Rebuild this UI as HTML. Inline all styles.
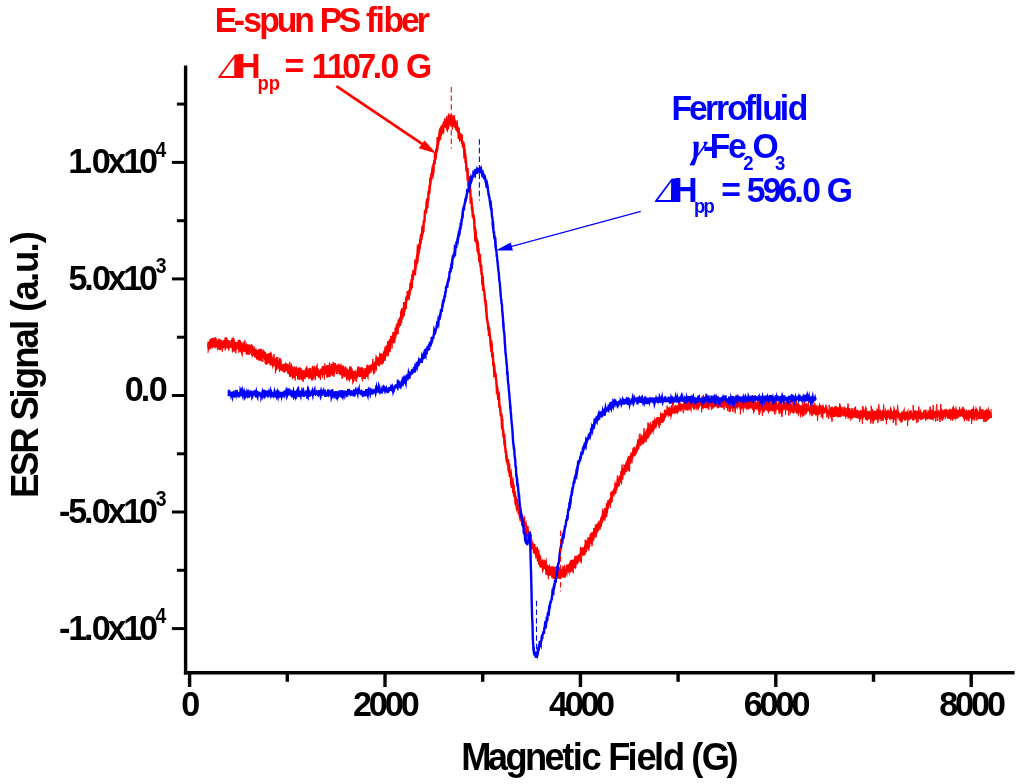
<!DOCTYPE html>
<html lang="en"><head><meta charset="utf-8"><title>ESR Signal vs Magnetic Field</title>
<style>
html,body{margin:0;padding:0;background:#fff;}
body{width:1024px;height:784px;overflow:hidden;}
svg{display:block;}
svg text{font-family:"Liberation Sans",sans-serif;font-weight:bold;}
svg text.sd{font-family:"Liberation Serif",serif;font-style:normal;font-weight:bold;}
svg text.sg{font-family:"Liberation Serif",serif;font-style:italic;font-weight:bold;}
</style></head><body>
<svg width="1024" height="784" viewBox="0 0 1024 784">
<rect width="1024" height="784" fill="#fff"/>
<line x1="185.6" y1="65.5" x2="185.6" y2="674.4" stroke="#000" stroke-width="3.4"/>
<line x1="183.9" y1="672.7" x2="1014.6" y2="672.7" stroke="#000" stroke-width="3.4"/>
<line x1="189.6" y1="672.7" x2="189.6" y2="687.0" stroke="#000" stroke-width="3.4"/>
<line x1="287.3" y1="672.7" x2="287.3" y2="681.8" stroke="#000" stroke-width="3.4"/>
<line x1="385.0" y1="672.7" x2="385.0" y2="687.0" stroke="#000" stroke-width="3.4"/>
<line x1="482.7" y1="672.7" x2="482.7" y2="681.8" stroke="#000" stroke-width="3.4"/>
<line x1="580.4" y1="672.7" x2="580.4" y2="687.0" stroke="#000" stroke-width="3.4"/>
<line x1="678.1" y1="672.7" x2="678.1" y2="681.8" stroke="#000" stroke-width="3.4"/>
<line x1="775.8" y1="672.7" x2="775.8" y2="687.0" stroke="#000" stroke-width="3.4"/>
<line x1="873.5" y1="672.7" x2="873.5" y2="681.8" stroke="#000" stroke-width="3.4"/>
<line x1="971.2" y1="672.7" x2="971.2" y2="687.0" stroke="#000" stroke-width="3.4"/>
<line x1="185.6" y1="628.6" x2="171.9" y2="628.6" stroke="#000" stroke-width="3"/>
<line x1="185.6" y1="570.3" x2="176.9" y2="570.3" stroke="#000" stroke-width="3"/>
<line x1="185.6" y1="512.0" x2="171.9" y2="512.0" stroke="#000" stroke-width="3"/>
<line x1="185.6" y1="453.8" x2="176.9" y2="453.8" stroke="#000" stroke-width="3"/>
<line x1="185.6" y1="395.5" x2="171.9" y2="395.5" stroke="#000" stroke-width="3"/>
<line x1="185.6" y1="337.2" x2="176.9" y2="337.2" stroke="#000" stroke-width="3"/>
<line x1="185.6" y1="278.9" x2="171.9" y2="278.9" stroke="#000" stroke-width="3"/>
<line x1="185.6" y1="220.7" x2="176.9" y2="220.7" stroke="#000" stroke-width="3"/>
<line x1="185.6" y1="162.4" x2="171.9" y2="162.4" stroke="#000" stroke-width="3"/>
<line x1="185.6" y1="104.1" x2="176.9" y2="104.1" stroke="#000" stroke-width="3"/>
<text transform="translate(181.25,716.20) scale(0.97,1)" font-size="35.2">0</text>
<text transform="translate(352.92,716.20) scale(0.97,1)" font-size="35.2" x="0.00 16.42 32.85 49.27">2000</text>
<text transform="translate(548.98,716.20) scale(0.97,1)" font-size="35.2" x="0.00 16.20 32.39 48.59">4000</text>
<text transform="translate(743.65,716.20) scale(0.97,1)" font-size="35.2" x="0.00 16.45 32.89 49.34">6000</text>
<text transform="translate(939.22,716.20) scale(0.97,1)" font-size="35.2" x="0.00 16.39 32.78 49.17">8000</text>
<text transform="translate(68.15,173.30) scale(0.97,1)" font-size="35.2" x="0.00 16.21 24.31 40.52 56.74 72.95">1.0x10</text>
<text transform="translate(155.61,156.70) scale(0.9,1)" font-size="21.5">4</text>
<text transform="translate(68.55,289.80) scale(0.97,1)" font-size="35.2" x="0.00 16.12 24.17 40.30 56.42 72.54">5.0x10</text>
<text transform="translate(155.66,273.00) scale(0.9,1)" font-size="21.5">3</text>
<text transform="translate(124.75,400.60) scale(0.97,1)" font-size="35.2" x="0.00 16.54 24.81">0.0</text>
<text transform="translate(58.97,523.30) scale(0.97,1)" font-size="35.2" x="0.00 9.68 25.85 33.92 50.09 66.25 82.42">-5.0x10</text>
<text transform="translate(155.66,506.00) scale(0.9,1)" font-size="21.5">3</text>
<text transform="translate(58.97,639.80) scale(0.97,1)" font-size="35.2" x="0.00 9.68 25.85 33.92 50.09 66.25 82.42">-1.0x10</text>
<text transform="translate(155.61,623.20) scale(0.9,1)" font-size="21.5">4</text>
<text transform="translate(461.32,770.00) scale(0.95,1)" font-size="38.2" x="0.00 27.91 46.55 67.02 87.49 106.12 117.28 126.59 145.23 154.54 175.01 184.32 202.95 212.26 232.73 242.04 253.20 279.26">Magnetic Field (G)</text>
<text transform="translate(38.30,498.05) rotate(-90) scale(0.95,1)" font-size="38.5" x="0.00 23.32 46.64 71.89 81.60 104.92 114.64 135.99 157.35 176.79 186.51 196.22 207.86 227.31 237.02 258.38 268.09">ESR Signal (a.u.)</text>
<polyline points="208.00,345.0 208.25,345.9 208.50,344.0 208.75,342.0 209.00,343.4 209.25,341.6 209.50,344.9 209.75,349.0 210.00,343.1 210.25,342.6 210.50,346.1 210.75,345.6 211.00,344.8 211.25,341.4 211.50,344.3 211.75,346.6 212.00,340.0 212.25,342.8 212.50,338.1 212.75,340.1 213.00,338.3 213.25,343.4 213.50,340.1 213.75,344.9 214.00,344.6 214.25,343.4 214.50,337.5 214.75,342.3 215.00,343.8 215.25,344.4 215.50,339.1 215.75,342.4 216.00,340.8 216.25,341.4 216.50,347.3 216.75,341.4 217.00,343.8 217.25,346.8 217.50,342.0 217.75,343.5 218.00,344.3 218.25,344.1 218.50,340.0 218.75,344.1 219.00,348.2 219.25,338.9 219.50,346.6 219.75,344.2 220.00,341.8 220.25,350.2 220.50,346.3 220.75,340.0 221.00,344.1 221.25,345.7 221.50,343.2 221.75,346.0 222.00,343.6 222.25,345.9 222.50,348.4 222.75,341.6 223.00,344.4 223.25,342.3 223.50,344.2 223.75,340.0 224.00,341.9 224.25,343.1 224.50,346.6 224.75,347.4 225.00,339.5 225.25,341.2 225.50,345.8 225.75,337.4 226.00,342.3 226.25,343.4 226.50,347.8 226.75,346.0 227.00,342.7 227.25,342.6 227.50,342.9 227.75,348.6 228.00,342.4 228.25,342.8 228.50,344.9 228.75,343.4 229.00,343.2 229.25,340.3 229.50,343.8 229.75,342.5 230.00,347.7 230.25,346.0 230.50,343.9 230.75,346.2 231.00,343.0 231.25,347.5 231.50,344.1 231.75,346.1 232.00,340.1 232.25,345.4 232.50,339.0 232.75,337.9 233.00,343.5 233.25,341.7 233.50,345.1 233.75,351.2 234.00,342.1 234.25,342.8 234.50,345.5 234.75,346.5 235.00,344.5 235.25,344.5 235.50,347.4 235.75,346.9 236.00,342.0 236.25,345.2 236.50,345.6 236.75,342.2 237.00,346.5 237.25,343.0 237.50,348.9 237.75,346.5 238.00,346.3 238.25,344.2 238.50,345.8 238.75,339.9 239.00,342.7 239.25,347.6 239.50,340.0 239.75,349.3 240.00,341.1 240.25,349.2 240.50,344.1 240.75,349.4 241.00,347.4 241.25,342.2 241.50,351.2 241.75,351.9 242.00,347.1 242.25,346.5 242.50,347.0 242.75,344.5 243.00,351.2 243.25,346.0 243.50,347.7 243.75,345.4 244.00,346.0 244.25,344.0 244.50,352.2 244.75,347.8 245.00,351.4 245.25,348.5 245.50,346.3 245.75,347.6 246.00,346.9 246.25,348.8 246.50,347.7 246.75,348.1 247.00,344.7 247.25,346.6 247.50,354.6 247.75,347.3 248.00,346.1 248.25,350.7 248.50,354.2 248.75,345.2 249.00,349.3 249.25,348.0 249.50,344.5 249.75,352.6 250.00,350.3 250.25,350.7 250.50,348.2 250.75,352.2 251.00,349.1 251.25,350.5 251.50,347.5 251.75,347.3 252.00,355.5 252.25,349.8 252.50,352.4 252.75,351.5 253.00,350.3 253.25,350.2 253.50,354.0 253.75,351.1 254.00,351.7 254.25,352.4 254.50,356.2 254.75,354.7 255.00,353.9 255.25,351.0 255.50,348.5 255.75,356.0 256.00,356.2 256.25,352.8 256.50,355.1 256.75,356.0 257.00,356.3 257.25,356.7 257.50,352.4 257.75,358.8 258.00,350.1 258.25,356.9 258.50,355.9 258.75,357.2 259.00,360.5 259.25,359.4 259.50,351.1 259.75,349.5 260.00,357.6 260.25,351.9 260.50,355.2 260.75,358.0 261.00,350.2 261.25,349.1 261.50,356.5 261.75,356.0 262.00,355.2 262.25,356.2 262.50,353.4 262.75,351.5 263.00,355.9 263.25,353.4 263.50,351.4 263.75,358.4 264.00,356.7 264.25,358.3 264.50,354.0 264.75,355.2 265.00,354.2 265.25,354.7 265.50,358.3 265.75,355.3 266.00,359.1 266.25,359.1 266.50,364.7 266.75,353.8 267.00,361.3 267.25,358.3 267.50,358.6 267.75,354.2 268.00,357.5 268.25,361.4 268.50,358.9 268.75,359.6 269.00,358.5 269.25,363.3 269.50,359.6 269.75,353.3 270.00,357.7 270.25,353.8 270.50,353.7 270.75,358.6 271.00,364.7 271.25,360.7 271.50,357.0 271.75,357.8 272.00,364.6 272.25,361.6 272.50,361.4 272.75,361.2 273.00,361.6 273.25,364.2 273.50,363.5 273.75,362.6 274.00,358.7 274.25,363.8 274.50,360.1 274.75,365.9 275.00,358.4 275.25,362.2 275.50,362.7 275.75,358.6 276.00,368.5 276.25,367.8 276.50,361.8 276.75,365.9 277.00,364.7 277.25,357.1 277.50,364.6 277.75,363.7 278.00,364.3 278.25,360.7 278.50,363.4 278.75,363.9 279.00,368.4 279.25,365.8 279.50,364.8 279.75,369.8 280.00,363.3 280.25,364.0 280.50,359.5 280.75,370.5 281.00,368.7 281.25,368.7 281.50,368.0 281.75,366.4 282.00,366.8 282.25,365.5 282.50,365.7 282.75,366.7 283.00,371.5 283.25,368.6 283.50,366.7 283.75,365.2 284.00,365.1 284.25,372.4 284.50,369.0 284.75,367.8 285.00,366.6 285.25,364.2 285.50,367.7 285.75,370.8 286.00,366.9 286.25,367.6 286.50,367.7 286.75,368.9 287.00,363.5 287.25,368.0 287.50,366.1 287.75,371.8 288.00,366.6 288.25,371.1 288.50,374.2 288.75,368.5 289.00,367.6 289.25,370.3 289.50,369.8 289.75,366.7 290.00,371.5 290.25,376.6 290.50,369.4 290.75,369.7 291.00,367.1 291.25,371.6 291.50,366.7 291.75,367.3 292.00,375.0 292.25,368.1 292.50,374.6 292.75,376.2 293.00,372.2 293.25,373.3 293.50,377.9 293.75,371.1 294.00,370.0 294.25,367.7 294.50,372.3 294.75,377.0 295.00,375.4 295.25,369.4 295.50,369.8 295.75,371.1 296.00,373.7 296.25,372.2 296.50,373.6 296.75,374.0 297.00,372.2 297.25,373.1 297.50,374.0 297.75,373.1 298.00,375.0 298.25,379.5 298.50,375.4 298.75,373.8 299.00,368.2 299.25,374.9 299.50,367.5 299.75,369.2 300.00,376.5 300.25,376.0 300.50,373.3 300.75,368.3 301.00,372.6 301.25,371.6 301.50,375.9 301.75,380.3 302.00,374.5 302.25,371.4 302.50,370.1 302.75,373.7 303.00,373.3 303.25,370.2 303.50,374.3 303.75,370.2 304.00,377.5 304.25,377.3 304.50,377.4 304.75,372.4 305.00,375.6 305.25,373.5 305.50,372.7 305.75,372.9 306.00,369.8 306.25,369.3 306.50,376.5 306.75,373.4 307.00,374.7 307.25,377.2 307.50,368.4 307.75,371.5 308.00,374.6 308.25,375.2 308.50,372.8 308.75,377.3 309.00,374.7 309.25,370.1 309.50,371.0 309.75,376.6 310.00,375.5 310.25,367.9 310.50,378.3 310.75,375.9 311.00,378.3 311.25,372.7 311.50,373.0 311.75,370.3 312.00,380.4 312.25,373.3 312.50,379.0 312.75,371.8 313.00,374.3 313.25,368.4 313.50,372.5 313.75,376.9 314.00,369.7 314.25,377.1 314.50,374.7 314.75,370.2 315.00,371.9 315.25,372.0 315.50,373.3 315.75,371.7 316.00,370.7 316.25,372.4 316.50,370.0 316.75,369.1 317.00,373.0 317.25,376.0 317.50,368.2 317.75,373.0 318.00,370.9 318.25,369.8 318.50,375.6 318.75,371.2 319.00,377.6 319.25,370.2 319.50,373.9 319.75,371.9 320.00,370.1 320.25,374.4 320.50,371.9 320.75,374.3 321.00,372.2 321.25,368.8 321.50,371.9 321.75,372.3 322.00,375.2 322.25,369.1 322.50,371.9 322.75,366.4 323.00,374.0 323.25,368.4 323.50,366.0 323.75,371.5 324.00,375.2 324.25,366.8 324.50,368.1 324.75,369.2 325.00,367.9 325.25,372.7 325.50,368.8 325.75,369.1 326.00,373.2 326.25,368.9 326.50,372.6 326.75,368.1 327.00,367.3 327.25,365.3 327.50,377.0 327.75,370.0 328.00,371.8 328.25,370.9 328.50,371.4 328.75,371.0 329.00,377.0 329.25,367.5 329.50,365.8 329.75,367.5 330.00,366.4 330.25,373.0 330.50,373.2 330.75,367.5 331.00,366.0 331.25,369.3 331.50,374.8 331.75,363.8 332.00,371.9 332.25,366.8 332.50,373.5 332.75,366.6 333.00,369.1 333.25,365.1 333.50,366.7 333.75,374.1 334.00,372.2 334.25,368.2 334.50,366.5 334.75,363.1 335.00,367.7 335.25,368.7 335.50,368.4 335.75,368.3 336.00,364.8 336.25,368.1 336.50,368.1 336.75,372.2 337.00,374.0 337.25,367.6 337.50,365.5 337.75,367.8 338.00,366.1 338.25,365.8 338.50,368.1 338.75,365.1 339.00,370.6 339.25,368.5 339.50,369.9 339.75,368.7 340.00,367.2 340.25,366.8 340.50,369.3 340.75,368.6 341.00,371.3 341.25,370.8 341.50,366.7 341.75,371.5 342.00,367.2 342.25,369.7 342.50,371.0 342.75,365.6 343.00,372.7 343.25,373.1 343.50,372.3 343.75,371.7 344.00,372.0 344.25,370.3 344.50,372.7 344.75,371.9 345.00,374.0 345.25,370.0 345.50,374.6 345.75,374.4 346.00,373.5 346.25,372.6 346.50,375.9 346.75,368.8 347.00,375.7 347.25,375.0 347.50,375.2 347.75,375.6 348.00,372.3 348.25,373.6 348.50,376.5 348.75,375.9 349.00,375.2 349.25,369.7 349.50,376.3 349.75,378.4 350.00,377.9 350.25,375.5 350.50,369.8 350.75,377.8 351.00,374.3 351.25,368.3 351.50,376.1 351.75,370.1 352.00,370.7 352.25,372.9 352.50,379.0 352.75,373.7 353.00,375.8 353.25,380.6 353.50,380.1 353.75,374.6 354.00,374.2 354.25,371.0 354.50,372.8 354.75,376.4 355.00,376.3 355.25,375.4 355.50,378.2 355.75,372.5 356.00,374.8 356.25,377.3 356.50,376.8 356.75,378.3 357.00,376.1 357.25,373.8 357.50,375.9 357.75,371.5 358.00,369.4 358.25,376.5 358.50,374.4 358.75,375.5 359.00,369.0 359.25,373.3 359.50,372.4 359.75,371.5 360.00,367.7 360.25,373.1 360.50,376.9 360.75,375.2 361.00,372.0 361.25,373.8 361.50,376.2 361.75,367.2 362.00,373.2 362.25,375.2 362.50,375.6 362.75,378.8 363.00,376.9 363.25,374.1 363.50,374.0 363.75,375.5 364.00,371.1 364.25,372.7 364.50,375.6 364.75,378.9 365.00,372.0 365.25,372.2 365.50,372.9 365.75,376.5 366.00,372.0 366.25,376.6 366.50,368.7 366.75,371.1 367.00,370.9 367.25,373.9 367.50,374.6 367.75,366.2 368.00,368.0 368.25,371.8 368.50,368.4 368.75,365.5 369.00,373.5 369.25,371.6 369.50,371.4 369.75,368.1 370.00,372.7 370.25,368.4 370.50,372.5 370.75,365.9 371.00,365.8 371.25,369.0 371.50,365.9 371.75,370.1 372.00,368.5 372.25,364.5 372.50,367.5 372.75,365.9 373.00,369.7 373.25,364.6 373.50,365.0 373.75,370.0 374.00,372.4 374.25,372.1 374.50,365.7 374.75,365.9 375.00,369.9 375.25,364.4 375.50,361.4 375.75,364.7 376.00,365.5 376.25,361.2 376.50,358.3 376.75,358.8 377.00,365.3 377.25,360.5 377.50,362.2 377.75,363.1 378.00,364.1 378.25,360.8 378.50,363.2 378.75,358.5 379.00,360.0 379.25,357.6 379.50,364.2 379.75,360.2 380.00,357.7 380.25,358.6 380.50,358.8 380.75,361.4 381.00,353.8 381.25,355.3 381.50,357.1 381.75,364.5 382.00,360.8 382.25,357.0 382.50,359.4 382.75,363.3 383.00,355.7 383.25,355.0 383.50,359.7 383.75,357.1 384.00,357.3 384.25,353.2 384.50,360.6 384.75,359.6 385.00,355.6 385.25,355.6 385.50,346.5 385.75,354.7 386.00,351.6 386.25,353.2 386.50,353.6 386.75,349.9 387.00,345.2 387.25,351.3 387.50,347.3 387.75,348.2 388.00,346.8 388.25,347.2 388.50,341.3 388.75,351.2 389.00,347.6 389.25,349.9 389.50,352.2 389.75,345.4 390.00,339.1 390.25,341.4 390.50,339.9 390.75,341.7 391.00,343.0 391.25,335.8 391.50,342.8 391.75,336.3 392.00,341.6 392.25,339.7 392.50,338.6 392.75,338.8 393.00,336.7 393.25,335.9 393.50,332.0 393.75,336.7 394.00,342.1 394.25,342.0 394.50,339.3 394.75,336.7 395.00,331.7 395.25,337.9 395.50,332.5 395.75,331.8 396.00,330.5 396.25,331.1 396.50,328.8 396.75,329.3 397.00,325.4 397.25,327.1 397.50,334.1 397.75,326.7 398.00,325.5 398.25,327.4 398.50,327.2 398.75,320.8 399.00,323.0 399.25,325.9 399.50,323.1 399.75,322.0 400.00,325.9 400.25,318.0 400.50,319.8 400.75,317.2 401.00,322.9 401.25,311.2 401.50,314.6 401.75,314.3 402.00,317.4 402.25,316.5 402.50,318.3 402.75,308.0 403.00,314.7 403.25,310.7 403.50,308.7 403.75,311.8 404.00,306.4 404.25,302.1 404.50,306.6 404.75,302.2 405.00,304.2 405.25,306.7 405.50,305.7 405.75,309.0 406.00,302.4 406.25,297.4 406.50,299.0 406.75,297.7 407.00,295.9 407.25,300.4 407.50,296.1 407.75,291.0 408.00,298.7 408.25,295.2 408.50,295.8 408.75,294.2 409.00,295.0 409.25,292.2 409.50,295.1 409.75,291.6 410.00,290.6 410.25,289.7 410.50,282.8 410.75,286.0 411.00,284.7 411.25,285.3 411.50,279.3 411.75,287.9 412.00,282.0 412.25,276.7 412.50,274.1 412.75,277.6 413.00,277.2 413.25,274.1 413.50,275.6 413.75,272.2 414.00,274.9 414.25,269.7 414.50,270.8 414.75,272.9 415.00,275.2 415.25,264.3 415.50,264.9 415.75,262.5 416.00,266.5 416.25,259.2 416.50,260.1 416.75,260.4 417.00,256.1 417.25,255.0 417.50,255.3 417.75,249.1 418.00,249.7 418.25,251.8 418.50,252.4 418.75,250.1 419.00,243.7 419.25,246.6 419.50,249.3 419.75,247.2 420.00,243.8 420.25,239.9 420.50,243.3 420.75,238.1 421.00,234.8 421.25,234.5 421.50,240.3 421.75,235.0 422.00,236.6 422.25,229.9 422.50,233.0 422.75,226.7 423.00,226.7 423.25,232.2 423.50,226.7 423.75,221.2 424.00,221.0 424.25,220.9 424.50,222.2 424.75,215.3 425.00,209.7 425.25,212.9 425.50,212.3 425.75,211.1 426.00,213.5 426.25,208.8 426.50,208.8 426.75,201.2 427.00,206.0 427.25,208.2 427.50,202.6 427.75,199.4 428.00,197.6 428.25,201.3 428.50,191.1 428.75,192.2 429.00,192.5 429.25,191.9 429.50,186.6 429.75,187.5 430.00,184.2 430.25,184.0 430.50,181.7 430.75,177.0 431.00,179.1 431.25,180.5 431.50,173.2 431.75,174.1 432.00,175.6 432.25,168.6 432.50,171.2 432.75,165.9 433.00,171.5 433.25,173.0 433.50,171.7 433.75,163.2 434.00,164.9 434.25,161.7 434.50,160.3 434.75,163.7 435.00,153.3 435.25,159.6 435.50,154.8 435.75,158.2 436.00,153.0 436.25,149.0 436.50,150.7 436.75,150.9 437.00,147.4 437.25,147.6 437.50,143.1 437.75,137.0 438.00,145.2 438.25,143.3 438.50,140.4 438.75,139.0 439.00,141.1 439.25,135.2 439.50,133.4 439.75,134.2 440.00,137.7 440.25,128.6 440.50,136.1 440.75,129.6 441.00,127.5 441.25,134.5 441.50,129.6 441.75,125.2 442.00,127.6 442.25,131.3 442.50,131.6 442.75,125.9 443.00,128.1 443.25,128.7 443.50,123.9 443.75,126.7 444.00,125.1 444.25,123.1 444.50,122.9 444.75,124.4 445.00,124.0 445.25,121.8 445.50,122.0 445.75,126.7 446.00,123.7 446.25,125.7 446.50,126.5 446.75,124.4 447.00,128.9 447.25,119.6 447.50,124.7 447.75,120.9 448.00,127.8 448.25,127.2 448.50,115.3 448.75,118.4 449.00,123.5 449.25,123.8 449.50,123.6 449.75,120.9 450.00,122.6 450.25,123.1 450.50,120.8 450.75,124.3 451.00,114.5 451.25,123.0 451.50,117.8 451.75,124.2 452.00,120.5 452.25,118.5 452.50,122.7 452.75,118.8 453.00,119.0 453.25,117.1 453.50,122.3 453.75,124.2 454.00,126.2 454.25,122.7 454.50,126.8 454.75,123.8 455.00,123.7 455.25,126.2 455.50,128.1 455.75,124.0 456.00,124.8 456.25,125.6 456.50,126.9 456.75,124.3 457.00,131.1 457.25,127.1 457.50,130.5 457.75,127.0 458.00,131.4 458.25,132.1 458.50,130.2 458.75,138.6 459.00,134.1 459.25,139.2 459.50,137.3 459.75,132.9 460.00,134.5 460.25,137.9 460.50,137.5 460.75,138.3 461.00,138.1 461.25,134.0 461.50,140.0 461.75,135.1 462.00,143.7 462.25,141.1 462.50,142.1 462.75,144.7 463.00,147.3 463.25,142.9 463.50,142.9 463.75,146.2 464.00,144.3 464.25,148.9 464.50,158.4 464.75,151.3 465.00,158.2 465.25,153.2 465.50,160.1 465.75,159.8 466.00,162.2 466.25,165.9 466.50,171.5 466.75,168.2 467.00,169.8 467.25,168.1 467.50,174.9 467.75,174.1 468.00,179.4 468.25,178.5 468.50,186.0 468.75,176.0 469.00,183.2 469.25,188.8 469.50,186.7 469.75,187.1 470.00,190.6 470.25,188.9 470.50,195.5 470.75,203.6 471.00,202.7 471.25,197.4 471.50,200.1 471.75,203.6 472.00,210.1 472.25,206.3 472.50,208.7 472.75,215.8 473.00,217.7 473.25,215.8 473.50,215.4 473.75,216.0 474.00,220.6 474.25,218.3 474.50,229.1 474.75,226.6 475.00,232.0 475.25,238.2 475.50,237.8 475.75,232.0 476.00,240.2 476.25,242.7 476.50,238.3 476.75,239.2 477.00,243.4 477.25,240.2 477.50,251.6 477.75,241.9 478.00,246.3 478.25,250.5 478.50,252.1 478.75,254.8 479.00,256.6 479.25,256.6 479.50,262.4 479.75,253.8 480.00,261.8 480.25,261.0 480.50,265.3 480.75,267.2 481.00,265.2 481.25,267.7 481.50,274.0 481.75,274.3 482.00,272.7 482.25,283.2 482.50,285.1 482.75,275.8 483.00,283.4 483.25,291.0 483.50,289.0 483.75,289.3 484.00,290.0 484.25,291.1 484.50,294.3 484.75,295.4 485.00,301.7 485.25,300.2 485.50,302.2 485.75,302.0 486.00,307.8 486.25,307.3 486.50,311.7 486.75,317.7 487.00,317.6 487.25,320.1 487.50,321.6 487.75,322.7 488.00,324.0 488.25,325.3 488.50,330.5 488.75,326.4 489.00,336.0 489.25,333.5 489.50,332.7 489.75,335.3 490.00,336.3 490.25,340.7 490.50,339.5 490.75,347.1 491.00,342.6 491.25,340.3 491.50,346.1 491.75,343.6 492.00,351.6 492.25,356.8 492.50,357.1 492.75,352.5 493.00,356.1 493.25,365.9 493.50,363.0 493.75,363.8 494.00,369.0 494.25,373.9 494.50,373.4 494.75,371.6 495.00,374.1 495.25,376.8 495.50,374.7 495.75,375.1 496.00,380.5 496.25,379.2 496.50,383.8 496.75,386.1 497.00,394.1 497.25,386.7 497.50,390.8 497.75,392.5 498.00,396.2 498.25,399.9 498.50,396.8 498.75,397.5 499.00,396.7 499.25,400.7 499.50,407.2 499.75,407.4 500.00,405.8 500.25,409.6 500.50,412.7 500.75,416.0 501.00,414.2 501.25,417.1 501.50,413.9 501.75,417.9 502.00,428.6 502.25,418.8 502.50,426.1 502.75,429.7 503.00,429.7 503.25,430.2 503.50,434.4 503.75,436.5 504.00,438.0 504.25,434.1 504.50,441.5 504.75,441.0 505.00,443.7 505.25,447.9 505.50,450.9 505.75,453.4 506.00,450.6 506.25,456.7 506.50,459.0 506.75,460.4 507.00,462.6 507.25,459.1 507.50,460.4 507.75,465.0 508.00,459.3 508.25,465.7 508.50,464.7 508.75,466.5 509.00,463.4 509.25,467.4 509.50,471.4 509.75,475.5 510.00,477.1 510.25,474.9 510.50,475.7 510.75,474.9 511.00,480.0 511.25,479.1 511.50,482.9 511.75,487.7 512.00,483.1 512.25,479.6 512.50,482.7 512.75,481.9 513.00,483.8 513.25,492.9 513.50,490.5 513.75,485.9 514.00,493.9 514.25,496.9 514.50,492.7 514.75,492.7 515.00,494.8 515.25,497.8 515.50,499.9 515.75,502.7 516.00,503.7 516.25,504.6 516.50,506.1 516.75,504.8 517.00,498.7 517.25,504.1 517.50,506.4 517.75,505.1 518.00,510.1 518.25,506.9 518.50,505.9 518.75,514.3 519.00,512.6 519.25,511.9 519.50,515.0 519.75,516.1 520.00,514.5 520.25,507.7 520.50,512.7 520.75,514.1 521.00,513.1 521.25,517.5 521.50,521.3 521.75,516.6 522.00,515.1 522.25,525.8 522.50,518.5 522.75,516.7 523.00,521.9 523.25,523.1 523.50,520.1 523.75,525.5 524.00,522.0 524.25,521.2 524.50,525.3 524.75,527.7 525.00,523.8 525.25,527.5 525.50,526.7 525.75,534.0 526.00,526.0 526.25,533.2 526.50,529.2 526.75,529.6 527.00,532.9 527.25,534.1 527.50,535.9 527.75,533.6 528.00,531.3 528.25,532.1 528.50,536.1 528.75,537.0 529.00,540.2 529.25,537.8 529.50,540.4 529.75,542.5 530.00,538.9 530.25,534.4 530.50,536.1 530.75,535.9 531.00,546.0 531.25,539.0 531.50,546.2 531.75,544.8 532.00,549.0 532.25,547.4 532.50,544.5 532.75,544.9 533.00,546.3 533.25,547.2 533.50,545.6 533.75,547.8 534.00,553.4 534.25,543.7 534.50,550.3 534.75,547.3 535.00,551.2 535.25,553.7 535.50,551.4 535.75,554.5 536.00,547.7 536.25,556.6 536.50,551.8 536.75,556.1 537.00,555.2 537.25,548.9 537.50,553.3 537.75,556.8 538.00,561.4 538.25,558.0 538.50,558.4 538.75,553.7 539.00,562.9 539.25,564.5 539.50,559.5 539.75,559.2 540.00,555.3 540.25,563.4 540.50,567.4 540.75,563.7 541.00,565.8 541.25,564.0 541.50,559.7 541.75,567.1 542.00,559.6 542.25,563.1 542.50,565.0 542.75,567.1 543.00,566.0 543.25,566.2 543.50,563.0 543.75,561.7 544.00,566.1 544.25,564.1 544.50,562.5 544.75,563.0 545.00,565.6 545.25,561.8 545.50,563.6 545.75,563.0 546.00,568.8 546.25,569.7 546.50,574.8 546.75,564.5 547.00,567.2 547.25,572.3 547.50,569.1 547.75,569.0 548.00,575.4 548.25,569.4 548.50,567.2 548.75,566.9 549.00,572.0 549.25,572.1 549.50,567.3 549.75,568.6 550.00,573.3 550.25,573.5 550.50,570.0 550.75,573.9 551.00,573.8 551.25,566.8 551.50,571.3 551.75,573.5 552.00,570.6 552.25,566.3 552.50,571.6 552.75,574.7 553.00,577.2 553.25,566.5 553.50,578.7 553.75,569.3 554.00,575.5 554.25,576.4 554.50,575.7 554.75,573.3 555.00,569.4 555.25,574.8 555.50,570.8 555.75,566.9 556.00,579.0 556.25,575.1 556.50,578.4 556.75,570.4 557.00,577.4 557.25,577.8 557.50,577.7 557.75,573.1 558.00,569.7 558.25,572.7 558.50,567.2 558.75,568.2 559.00,573.5 559.25,570.4 559.50,572.8 559.75,573.0 560.00,579.0 560.25,577.1 560.50,573.2 560.75,576.8 561.00,571.0 561.25,572.3 561.50,575.9 561.75,569.5 562.00,572.2 562.25,569.1 562.50,573.2 562.75,577.5 563.00,570.4 563.25,573.1 563.50,569.7 563.75,568.9 564.00,568.4 564.25,576.1 564.50,577.6 564.75,572.9 565.00,569.3 565.25,573.2 565.50,570.0 565.75,573.1 566.00,571.4 566.25,571.2 566.50,571.9 566.75,568.3 567.00,568.6 567.25,564.6 567.50,568.1 567.75,565.1 568.00,568.6 568.25,566.1 568.50,569.0 568.75,569.8 569.00,564.2 569.25,565.7 569.50,565.1 569.75,569.7 570.00,572.3 570.25,569.6 570.50,565.9 570.75,570.9 571.00,562.1 571.25,570.4 571.50,564.0 571.75,559.8 572.00,571.2 572.25,569.6 572.50,561.9 572.75,565.1 573.00,563.7 573.25,564.3 573.50,559.5 573.75,561.5 574.00,564.5 574.25,563.5 574.50,566.0 574.75,562.6 575.00,567.9 575.25,559.7 575.50,562.2 575.75,555.8 576.00,557.3 576.25,564.3 576.50,557.6 576.75,561.5 577.00,559.5 577.25,556.4 577.50,558.1 577.75,557.3 578.00,557.0 578.25,560.2 578.50,559.6 578.75,555.8 579.00,554.6 579.25,557.6 579.50,556.1 579.75,559.0 580.00,561.5 580.25,557.7 580.50,554.9 580.75,554.2 581.00,551.9 581.25,551.4 581.50,550.8 581.75,552.2 582.00,551.7 582.25,554.6 582.50,551.1 582.75,551.3 583.00,548.0 583.25,555.6 583.50,552.1 583.75,555.3 584.00,552.2 584.25,553.7 584.50,548.5 584.75,550.8 585.00,554.1 585.25,544.7 585.50,550.9 585.75,552.0 586.00,548.0 586.25,548.6 586.50,549.6 586.75,543.8 587.00,546.4 587.25,542.4 587.50,542.5 587.75,542.3 588.00,543.2 588.25,543.6 588.50,544.0 588.75,538.4 589.00,547.5 589.25,544.7 589.50,543.1 589.75,539.7 590.00,540.0 590.25,541.3 590.50,540.5 590.75,534.3 591.00,540.6 591.25,543.7 591.50,532.5 591.75,540.0 592.00,537.9 592.25,536.1 592.50,539.8 592.75,532.3 593.00,535.6 593.25,538.8 593.50,533.8 593.75,532.7 594.00,533.8 594.25,531.8 594.50,536.9 594.75,529.7 595.00,534.2 595.25,527.9 595.50,532.8 595.75,530.2 596.00,524.5 596.25,529.6 596.50,526.3 596.75,527.6 597.00,532.6 597.25,524.8 597.50,524.6 597.75,531.0 598.00,526.9 598.25,530.4 598.50,526.6 598.75,522.8 599.00,524.6 599.25,527.7 599.50,526.5 599.75,523.4 600.00,523.1 600.25,522.2 600.50,520.4 600.75,526.8 601.00,521.1 601.25,517.5 601.50,518.8 601.75,521.6 602.00,520.8 602.25,518.2 602.50,516.2 602.75,517.6 603.00,512.5 603.25,513.0 603.50,518.2 603.75,514.2 604.00,516.0 604.25,517.8 604.50,515.7 604.75,513.4 605.00,518.3 605.25,514.1 605.50,510.8 605.75,513.2 606.00,511.8 606.25,507.9 606.50,509.8 606.75,508.6 607.00,503.2 607.25,507.5 607.50,506.7 607.75,505.7 608.00,501.9 608.25,504.8 608.50,505.1 608.75,504.9 609.00,501.1 609.25,505.2 609.50,499.7 609.75,501.8 610.00,505.3 610.25,499.4 610.50,499.3 610.75,502.9 611.00,498.4 611.25,498.0 611.50,498.8 611.75,500.4 612.00,491.6 612.25,494.2 612.50,493.1 612.75,492.2 613.00,492.2 613.25,491.7 613.50,494.1 613.75,490.3 614.00,492.3 614.25,492.5 614.50,488.9 614.75,490.5 615.00,493.9 615.25,489.8 615.50,486.7 615.75,487.6 616.00,484.8 616.25,487.3 616.50,488.2 616.75,483.2 617.00,484.3 617.25,487.1 617.50,482.4 617.75,483.6 618.00,479.9 618.25,479.9 618.50,480.1 618.75,486.2 619.00,479.4 619.25,478.6 619.50,478.0 619.75,478.5 620.00,480.1 620.25,478.4 620.50,482.6 620.75,477.5 621.00,480.1 621.25,476.7 621.50,477.0 621.75,471.4 622.00,474.3 622.25,474.0 622.50,473.1 622.75,468.0 623.00,475.0 623.25,471.4 623.50,470.8 623.75,470.8 624.00,470.4 624.25,471.6 624.50,467.0 624.75,467.4 625.00,470.0 625.25,469.2 625.50,467.5 625.75,466.5 626.00,465.5 626.25,467.0 626.50,469.6 626.75,463.6 627.00,469.6 627.25,467.5 627.50,463.8 627.75,466.5 628.00,460.4 628.25,459.4 628.50,460.0 628.75,461.7 629.00,461.5 629.25,460.6 629.50,461.7 629.75,455.8 630.00,461.7 630.25,456.6 630.50,458.0 630.75,458.1 631.00,455.8 631.25,454.8 631.50,455.2 631.75,457.2 632.00,458.2 632.25,457.7 632.50,453.4 632.75,453.4 633.00,452.6 633.25,455.5 633.50,448.9 633.75,456.4 634.00,451.8 634.25,450.6 634.50,452.8 634.75,454.0 635.00,451.9 635.25,453.2 635.50,450.5 635.75,452.7 636.00,452.2 636.25,448.5 636.50,451.8 636.75,448.3 637.00,447.7 637.25,444.8 637.50,445.9 637.75,448.1 638.00,442.6 638.25,446.9 638.50,445.8 638.75,445.2 639.00,439.2 639.25,443.6 639.50,445.0 639.75,441.3 640.00,442.9 640.25,437.4 640.50,443.6 640.75,440.1 641.00,443.4 641.25,436.6 641.50,442.4 641.75,439.8 642.00,442.0 642.25,437.5 642.50,437.9 642.75,444.1 643.00,436.8 643.25,436.8 643.50,437.5 643.75,435.4 644.00,440.5 644.25,441.4 644.50,435.3 644.75,432.6 645.00,439.2 645.25,438.8 645.50,437.8 645.75,438.3 646.00,433.2 646.25,434.6 646.50,431.4 646.75,431.0 647.00,436.5 647.25,432.3 647.50,438.6 647.75,433.5 648.00,431.5 648.25,434.7 648.50,436.8 648.75,433.4 649.00,429.0 649.25,432.5 649.50,434.6 649.75,429.9 650.00,428.9 650.25,432.9 650.50,430.5 650.75,427.3 651.00,428.7 651.25,427.5 651.50,429.7 651.75,429.0 652.00,431.2 652.25,429.9 652.50,424.1 652.75,428.5 653.00,429.4 653.25,428.1 653.50,429.2 653.75,425.1 654.00,423.8 654.25,428.1 654.50,423.0 654.75,420.3 655.00,427.4 655.25,422.9 655.50,423.7 655.75,420.8 656.00,420.7 656.25,420.8 656.50,422.4 656.75,423.9 657.00,417.8 657.25,424.3 657.50,419.4 657.75,419.4 658.00,423.4 658.25,421.3 658.50,417.5 658.75,425.4 659.00,418.7 659.25,421.1 659.50,420.7 659.75,423.4 660.00,418.7 660.25,422.0 660.50,417.6 660.75,421.8 661.00,417.1 661.25,417.8 661.50,423.0 661.75,419.0 662.00,418.2 662.25,422.8 662.50,418.4 662.75,415.3 663.00,418.8 663.25,414.0 663.50,419.3 663.75,419.3 664.00,414.8 664.25,414.4 664.50,416.2 664.75,415.5 665.00,412.9 665.25,416.4 665.50,410.0 665.75,413.6 666.00,413.5 666.25,413.6 666.50,414.7 666.75,410.9 667.00,415.0 667.25,413.0 667.50,411.6 667.75,409.7 668.00,410.0 668.25,413.5 668.50,410.1 668.75,412.4 669.00,414.6 669.25,414.3 669.50,415.4 669.75,410.8 670.00,408.7 670.25,413.6 670.50,411.7 670.75,413.5 671.00,410.7 671.25,413.4 671.50,412.4 671.75,411.9 672.00,411.3 672.25,410.9 672.50,410.3 672.75,410.2 673.00,411.9 673.25,408.2 673.50,413.5 673.75,408.9 674.00,411.4 674.25,408.8 674.50,408.3 674.75,413.7 675.00,407.9 675.25,405.5 675.50,406.8 675.75,407.7 676.00,413.3 676.25,408.7 676.50,410.4 676.75,405.7 677.00,408.8 677.25,409.5 677.50,412.1 677.75,406.1 678.00,409.1 678.25,408.3 678.50,405.0 678.75,407.3 679.00,406.7 679.25,402.2 679.50,408.6 679.75,408.4 680.00,405.9 680.25,403.7 680.50,410.4 680.75,407.4 681.00,409.1 681.25,410.0 681.50,405.3 681.75,408.4 682.00,405.8 682.25,406.1 682.50,406.0 682.75,406.1 683.00,408.7 683.25,406.3 683.50,405.6 683.75,405.2 684.00,406.6 684.25,403.6 684.50,404.5 684.75,405.5 685.00,404.2 685.25,405.2 685.50,403.9 685.75,410.1 686.00,408.5 686.25,406.3 686.50,405.0 686.75,410.1 687.00,405.8 687.25,404.8 687.50,405.6 687.75,405.6 688.00,408.2 688.25,404.7 688.50,409.7 688.75,402.5 689.00,406.3 689.25,402.1 689.50,408.9 689.75,403.7 690.00,404.3 690.25,406.6 690.50,407.3 690.75,401.6 691.00,403.4 691.25,400.8 691.50,404.5 691.75,403.9 692.00,403.2 692.25,402.4 692.50,403.1 692.75,402.2 693.00,405.2 693.25,407.5 693.50,399.2 693.75,403.5 694.00,402.8 694.25,404.9 694.50,401.5 694.75,403.4 695.00,401.2 695.25,405.3 695.50,403.9 695.75,403.2 696.00,404.5 696.25,403.0 696.50,399.8 696.75,405.0 697.00,404.2 697.25,403.2 697.50,405.9 697.75,406.4 698.00,400.9 698.25,401.6 698.50,407.2 698.75,406.9 699.00,401.7 699.25,400.6 699.50,401.9 699.75,402.3 700.00,399.6 700.25,403.5 700.50,400.4 700.75,400.5 701.00,405.6 701.25,401.8 701.50,403.2 701.75,404.9 702.00,405.4 702.25,402.6 702.50,403.5 702.75,401.4 703.00,407.6 703.25,404.9 703.50,400.7 703.75,403.4 704.00,405.1 704.25,404.5 704.50,407.7 704.75,406.6 705.00,402.0 705.25,403.1 705.50,400.2 705.75,403.9 706.00,403.7 706.25,408.3 706.50,403.5 706.75,398.3 707.00,401.7 707.25,403.6 707.50,400.3 707.75,401.2 708.00,402.4 708.25,404.1 708.50,402.9 708.75,401.1 709.00,405.2 709.25,402.0 709.50,402.1 709.75,399.9 710.00,401.4 710.25,404.8 710.50,399.4 710.75,403.1 711.00,405.0 711.25,402.3 711.50,403.8 711.75,400.6 712.00,406.4 712.25,405.9 712.50,403.8 712.75,399.0 713.00,400.7 713.25,405.6 713.50,407.3 713.75,403.9 714.00,406.2 714.25,401.8 714.50,402.8 714.75,403.2 715.00,404.2 715.25,399.5 715.50,405.5 715.75,406.4 716.00,400.4 716.25,399.9 716.50,404.0 716.75,401.6 717.00,398.2 717.25,405.1 717.50,403.6 717.75,402.1 718.00,408.2 718.25,403.5 718.50,401.4 718.75,403.4 719.00,400.7 719.25,401.4 719.50,404.1 719.75,401.9 720.00,402.1 720.25,407.2 720.50,405.3 720.75,405.2 721.00,404.5 721.25,404.4 721.50,406.7 721.75,403.2 722.00,407.7 722.25,401.0 722.50,402.7 722.75,400.0 723.00,402.5 723.25,404.5 723.50,406.8 723.75,401.7 724.00,403.3 724.25,402.5 724.50,401.6 724.75,400.5 725.00,403.5 725.25,399.2 725.50,403.6 725.75,403.4 726.00,401.8 726.25,401.0 726.50,400.1 726.75,407.9 727.00,400.2 727.25,407.2 727.50,404.9 727.75,402.6 728.00,400.7 728.25,406.0 728.50,407.6 728.75,401.3 729.00,402.8 729.25,406.1 729.50,404.4 729.75,408.4 730.00,402.2 730.25,404.9 730.50,400.6 730.75,408.6 731.00,401.9 731.25,398.6 731.50,403.4 731.75,403.3 732.00,408.3 732.25,402.9 732.50,403.7 732.75,405.2 733.00,407.6 733.25,403.6 733.50,406.3 733.75,405.0 734.00,403.1 734.25,404.0 734.50,403.9 734.75,401.7 735.00,406.8 735.25,400.6 735.50,406.7 735.75,406.2 736.00,403.7 736.25,402.1 736.50,403.4 736.75,405.1 737.00,405.8 737.25,404.7 737.50,406.4 737.75,402.7 738.00,404.7 738.25,400.4 738.50,406.0 738.75,404.5 739.00,403.2 739.25,407.0 739.50,405.9 739.75,399.2 740.00,404.3 740.25,400.8 740.50,406.8 740.75,409.3 741.00,403.1 741.25,404.5 741.50,403.8 741.75,405.2 742.00,405.9 742.25,407.5 742.50,402.1 742.75,408.2 743.00,402.2 743.25,405.2 743.50,407.3 743.75,406.3 744.00,402.3 744.25,402.9 744.50,403.5 744.75,404.5 745.00,407.4 745.25,401.6 745.50,405.8 745.75,406.2 746.00,406.1 746.25,405.9 746.50,408.4 746.75,405.9 747.00,406.9 747.25,406.2 747.50,409.1 747.75,400.3 748.00,408.0 748.25,404.3 748.50,404.2 748.75,402.6 749.00,400.5 749.25,404.1 749.50,403.3 749.75,406.2 750.00,401.5 750.25,408.5 750.50,405.7 750.75,404.5 751.00,403.4 751.25,403.2 751.50,402.4 751.75,403.9 752.00,405.2 752.25,404.8 752.50,401.8 752.75,404.6 753.00,403.1 753.25,405.7 753.50,409.8 753.75,406.8 754.00,404.6 754.25,401.4 754.50,402.0 754.75,401.3 755.00,407.1 755.25,403.6 755.50,405.6 755.75,403.9 756.00,405.7 756.25,408.8 756.50,403.8 756.75,404.7 757.00,403.6 757.25,407.6 757.50,403.1 757.75,402.8 758.00,402.3 758.25,402.2 758.50,406.7 758.75,410.6 759.00,403.3 759.25,407.9 759.50,406.3 759.75,403.0 760.00,405.0 760.25,405.2 760.50,404.1 760.75,410.4 761.00,401.2 761.25,406.7 761.50,406.6 761.75,404.4 762.00,406.2 762.25,408.0 762.50,406.2 762.75,406.9 763.00,407.6 763.25,401.0 763.50,409.5 763.75,410.9 764.00,408.3 764.25,408.4 764.50,402.6 764.75,405.7 765.00,404.1 765.25,404.6 765.50,408.4 765.75,404.1 766.00,405.8 766.25,401.5 766.50,405.7 766.75,406.4 767.00,404.5 767.25,404.4 767.50,410.7 767.75,403.3 768.00,403.7 768.25,404.3 768.50,409.1 768.75,411.3 769.00,407.1 769.25,404.6 769.50,405.3 769.75,408.9 770.00,404.2 770.25,409.9 770.50,409.8 770.75,406.6 771.00,408.0 771.25,408.2 771.50,410.2 771.75,403.9 772.00,409.3 772.25,405.6 772.50,404.7 772.75,406.8 773.00,406.0 773.25,404.2 773.50,402.7 773.75,404.3 774.00,410.1 774.25,411.3 774.50,408.2 774.75,409.5 775.00,405.4 775.25,406.5 775.50,407.4 775.75,404.1 776.00,404.4 776.25,407.0 776.50,406.0 776.75,404.2 777.00,407.7 777.25,406.2 777.50,409.3 777.75,406.9 778.00,406.2 778.25,407.2 778.50,406.5 778.75,405.3 779.00,406.0 779.25,408.8 779.50,408.5 779.75,410.1 780.00,403.0 780.25,406.1 780.50,406.1 780.75,407.5 781.00,406.0 781.25,405.9 781.50,409.0 781.75,407.6 782.00,404.4 782.25,410.4 782.50,409.6 782.75,405.8 783.00,409.2 783.25,405.5 783.50,410.0 783.75,406.8 784.00,405.4 784.25,406.4 784.50,405.5 784.75,407.8 785.00,407.8 785.25,407.5 785.50,406.1 785.75,402.4 786.00,407.7 786.25,402.9 786.50,408.1 786.75,410.2 787.00,408.2 787.25,406.6 787.50,407.1 787.75,407.3 788.00,406.3 788.25,406.2 788.50,405.4 788.75,410.5 789.00,407.6 789.25,410.0 789.50,407.1 789.75,407.9 790.00,407.3 790.25,408.9 790.50,409.8 790.75,408.4 791.00,406.2 791.25,406.0 791.50,411.8 791.75,407.2 792.00,407.2 792.25,411.4 792.50,410.5 792.75,409.2 793.00,407.0 793.25,413.0 793.50,409.0 793.75,409.3 794.00,407.6 794.25,404.7 794.50,404.9 794.75,409.1 795.00,409.1 795.25,407.6 795.50,405.4 795.75,404.7 796.00,407.4 796.25,404.7 796.50,410.4 796.75,411.0 797.00,413.3 797.25,410.4 797.50,406.9 797.75,406.3 798.00,403.4 798.25,407.0 798.50,408.0 798.75,410.8 799.00,409.9 799.25,409.9 799.50,409.0 799.75,410.1 800.00,412.0 800.25,406.0 800.50,407.5 800.75,405.3 801.00,412.5 801.25,411.8 801.50,410.5 801.75,405.8 802.00,409.2 802.25,408.2 802.50,409.0 802.75,408.4 803.00,410.1 803.25,407.9 803.50,410.9 803.75,409.5 804.00,408.2 804.25,408.7 804.50,407.9 804.75,411.0 805.00,408.4 805.25,409.8 805.50,408.1 805.75,405.5 806.00,411.3 806.25,406.6 806.50,410.8 806.75,410.2 807.00,405.3 807.25,407.0 807.50,408.1 807.75,407.3 808.00,406.5 808.25,411.1 808.50,408.8 808.75,410.3 809.00,408.4 809.25,410.2 809.50,407.7 809.75,409.5 810.00,410.9 810.25,409.7 810.50,408.5 810.75,407.0 811.00,410.0 811.25,410.5 811.50,409.1 811.75,407.9 812.00,411.1 812.25,414.8 812.50,409.1 812.75,410.6 813.00,410.8 813.25,404.9 813.50,410.2 813.75,408.2 814.00,413.3 814.25,409.4 814.50,408.1 814.75,409.5 815.00,410.5 815.25,408.8 815.50,410.0 815.75,406.9 816.00,409.6 816.25,412.1 816.50,415.0 816.75,411.9 817.00,410.9 817.25,413.1 817.50,412.8 817.75,414.4 818.00,413.0 818.25,410.1 818.50,411.1 818.75,410.9 819.00,411.2 819.25,411.0 819.50,408.7 819.75,405.6 820.00,409.0 820.25,405.8 820.50,410.8 820.75,410.7 821.00,406.7 821.25,412.4 821.50,412.8 821.75,411.0 822.00,414.8 822.25,415.3 822.50,408.0 822.75,413.4 823.00,412.0 823.25,411.9 823.50,413.2 823.75,409.3 824.00,409.6 824.25,409.0 824.50,409.2 824.75,410.8 825.00,407.6 825.25,408.6 825.50,412.5 825.75,411.0 826.00,412.1 826.25,406.7 826.50,409.4 826.75,409.9 827.00,411.4 827.25,409.9 827.50,413.6 827.75,411.2 828.00,411.4 828.25,411.5 828.50,413.1 828.75,410.3 829.00,414.2 829.25,412.6 829.50,411.9 829.75,411.7 830.00,412.8 830.25,414.0 830.50,413.9 830.75,412.6 831.00,413.8 831.25,412.0 831.50,414.7 831.75,411.7 832.00,406.8 832.25,415.0 832.50,412.1 832.75,409.0 833.00,411.4 833.25,409.8 833.50,416.9 833.75,413.1 834.00,408.2 834.25,413.3 834.50,411.0 834.75,416.6 835.00,409.5 835.25,407.0 835.50,412.2 835.75,411.2 836.00,411.1 836.25,407.1 836.50,413.2 836.75,416.2 837.00,407.6 837.25,415.0 837.50,410.9 837.75,417.2 838.00,413.3 838.25,411.8 838.50,415.0 838.75,413.6 839.00,410.9 839.25,414.1 839.50,411.2 839.75,408.1 840.00,417.3 840.25,411.6 840.50,411.0 840.75,413.3 841.00,408.8 841.25,409.3 841.50,411.4 841.75,411.3 842.00,412.8 842.25,415.3 842.50,411.5 842.75,413.8 843.00,414.1 843.25,410.1 843.50,413.3 843.75,410.5 844.00,415.3 844.25,413.9 844.50,412.8 844.75,409.6 845.00,413.1 845.25,411.0 845.50,414.6 845.75,412.6 846.00,411.0 846.25,415.2 846.50,414.7 846.75,411.6 847.00,415.8 847.25,412.3 847.50,412.3 847.75,413.4 848.00,411.3 848.25,412.1 848.50,412.7 848.75,416.8 849.00,416.8 849.25,412.6 849.50,417.1 849.75,413.1 850.00,414.2 850.25,415.4 850.50,414.0 850.75,418.3 851.00,413.9 851.25,410.5 851.50,416.5 851.75,412.4 852.00,412.7 852.25,408.4 852.50,415.9 852.75,415.4 853.00,415.4 853.25,415.9 853.50,417.6 853.75,413.4 854.00,415.8 854.25,411.8 854.50,412.8 854.75,416.2 855.00,414.6 855.25,410.5 855.50,414.5 855.75,413.3 856.00,411.7 856.25,414.8 856.50,412.8 856.75,410.0 857.00,411.1 857.25,418.0 857.50,410.2 857.75,414.4 858.00,415.3 858.25,415.4 858.50,411.0 858.75,413.1 859.00,414.3 859.25,415.9 859.50,412.4 859.75,411.2 860.00,416.4 860.25,416.7 860.50,414.9 860.75,412.6 861.00,415.0 861.25,414.3 861.50,416.1 861.75,411.1 862.00,414.4 862.25,413.8 862.50,411.5 862.75,414.7 863.00,414.3 863.25,413.2 863.50,415.2 863.75,410.8 864.00,414.1 864.25,415.3 864.50,415.0 864.75,416.9 865.00,411.4 865.25,410.7 865.50,414.9 865.75,415.4 866.00,419.4 866.25,415.9 866.50,412.3 866.75,416.3 867.00,412.4 867.25,410.9 867.50,419.4 867.75,415.2 868.00,416.2 868.25,415.8 868.50,418.8 868.75,415.2 869.00,417.4 869.25,412.1 869.50,411.2 869.75,418.0 870.00,418.1 870.25,415.8 870.50,415.1 870.75,415.0 871.00,412.9 871.25,418.3 871.50,416.2 871.75,415.8 872.00,415.5 872.25,417.2 872.50,415.9 872.75,416.5 873.00,411.9 873.25,415.9 873.50,419.7 873.75,413.5 874.00,414.4 874.25,416.9 874.50,417.0 874.75,416.2 875.00,410.9 875.25,415.9 875.50,411.9 875.75,412.8 876.00,416.1 876.25,414.1 876.50,416.7 876.75,419.8 877.00,416.7 877.25,416.5 877.50,412.7 877.75,413.3 878.00,412.3 878.25,413.6 878.50,412.2 878.75,413.3 879.00,414.4 879.25,412.5 879.50,411.5 879.75,411.6 880.00,416.0 880.25,415.0 880.50,417.4 880.75,417.4 881.00,414.1 881.25,416.5 881.50,411.5 881.75,419.9 882.00,417.8 882.25,414.4 882.50,412.2 882.75,415.9 883.00,410.5 883.25,413.1 883.50,416.8 883.75,415.2 884.00,413.8 884.25,417.3 884.50,412.5 884.75,415.7 885.00,413.8 885.25,413.0 885.50,416.2 885.75,412.7 886.00,419.6 886.25,413.7 886.50,419.9 886.75,412.5 887.00,416.5 887.25,412.2 887.50,411.9 887.75,415.5 888.00,416.7 888.25,412.1 888.50,418.0 888.75,413.2 889.00,415.5 889.25,416.1 889.50,416.6 889.75,410.8 890.00,419.1 890.25,416.5 890.50,414.2 890.75,412.7 891.00,411.1 891.25,411.9 891.50,416.5 891.75,414.4 892.00,412.5 892.25,414.0 892.50,419.0 892.75,414.4 893.00,413.8 893.25,418.5 893.50,416.4 893.75,415.4 894.00,413.8 894.25,411.5 894.50,412.5 894.75,414.1 895.00,414.8 895.25,416.1 895.50,416.6 895.75,415.8 896.00,415.8 896.25,412.9 896.50,410.3 896.75,414.1 897.00,413.0 897.25,413.8 897.50,414.7 897.75,412.4 898.00,412.7 898.25,415.1 898.50,415.6 898.75,413.8 899.00,416.6 899.25,414.8 899.50,412.9 899.75,415.5 900.00,419.9 900.25,413.8 900.50,418.2 900.75,418.7 901.00,419.0 901.25,413.4 901.50,420.2 901.75,415.7 902.00,414.8 902.25,414.9 902.50,416.9 902.75,415.5 903.00,415.0 903.25,418.5 903.50,413.7 903.75,412.9 904.00,417.3 904.25,417.1 904.50,418.1 904.75,412.9 905.00,418.0 905.25,416.6 905.50,419.7 905.75,412.5 906.00,416.0 906.25,414.8 906.50,411.7 906.75,413.8 907.00,418.2 907.25,414.4 907.50,413.7 907.75,417.6 908.00,417.9 908.25,417.9 908.50,413.6 908.75,415.3 909.00,418.0 909.25,413.9 909.50,413.7 909.75,417.5 910.00,419.2 910.25,412.7 910.50,410.5 910.75,412.0 911.00,413.1 911.25,415.2 911.50,417.0 911.75,415.1 912.00,413.8 912.25,415.9 912.50,413.2 912.75,415.4 913.00,414.0 913.25,420.5 913.50,417.5 913.75,413.5 914.00,413.1 914.25,414.4 914.50,411.5 914.75,413.7 915.00,413.7 915.25,417.6 915.50,414.5 915.75,413.6 916.00,412.3 916.25,412.6 916.50,415.3 916.75,414.9 917.00,418.2 917.25,413.9 917.50,418.0 917.75,416.1 918.00,415.4 918.25,410.6 918.50,412.3 918.75,417.2 919.00,418.8 919.25,415.9 919.50,417.2 919.75,414.4 920.00,414.5 920.25,413.8 920.50,417.7 920.75,416.2 921.00,414.8 921.25,414.5 921.50,416.6 921.75,416.1 922.00,413.3 922.25,419.4 922.50,415.9 922.75,415.3 923.00,418.8 923.25,417.7 923.50,415.0 923.75,416.5 924.00,412.6 924.25,413.6 924.50,410.2 924.75,418.1 925.00,410.6 925.25,416.8 925.50,413.1 925.75,412.7 926.00,414.6 926.25,415.7 926.50,416.5 926.75,419.3 927.00,415.9 927.25,417.1 927.50,413.6 927.75,416.7 928.00,415.3 928.25,413.8 928.50,414.7 928.75,414.8 929.00,415.4 929.25,415.9 929.50,413.7 929.75,413.1 930.00,416.6 930.25,410.8 930.50,413.3 930.75,418.5 931.00,409.8 931.25,413.1 931.50,416.4 931.75,410.8 932.00,419.7 932.25,409.7 932.50,418.1 932.75,418.4 933.00,416.9 933.25,414.1 933.50,415.5 933.75,412.5 934.00,416.6 934.25,411.9 934.50,413.9 934.75,417.0 935.00,411.9 935.25,413.7 935.50,414.9 935.75,411.3 936.00,417.3 936.25,415.3 936.50,410.8 936.75,414.3 937.00,412.6 937.25,412.8 937.50,414.6 937.75,412.7 938.00,416.7 938.25,412.7 938.50,416.7 938.75,414.2 939.00,416.4 939.25,413.0 939.50,413.1 939.75,411.5 940.00,415.6 940.25,416.5 940.50,419.2 940.75,417.3 941.00,414.8 941.25,413.7 941.50,415.1 941.75,414.1 942.00,417.7 942.25,416.4 942.50,412.1 942.75,412.5 943.00,417.4 943.25,414.8 943.50,413.5 943.75,416.9 944.00,413.1 944.25,413.4 944.50,412.9 944.75,409.3 945.00,416.1 945.25,411.1 945.50,412.7 945.75,412.2 946.00,415.7 946.25,413.8 946.50,414.0 946.75,409.9 947.00,413.8 947.25,410.4 947.50,414.7 947.75,414.8 948.00,413.9 948.25,418.8 948.50,415.2 948.75,415.4 949.00,414.3 949.25,413.5 949.50,416.2 949.75,416.6 950.00,410.8 950.25,416.4 950.50,415.1 950.75,416.2 951.00,415.0 951.25,410.9 951.50,411.1 951.75,418.3 952.00,414.5 952.25,410.5 952.50,414.7 952.75,413.0 953.00,409.5 953.25,408.9 953.50,410.1 953.75,414.6 954.00,413.8 954.25,413.3 954.50,414.6 954.75,415.3 955.00,408.9 955.25,413.2 955.50,411.9 955.75,410.9 956.00,412.6 956.25,413.6 956.50,413.3 956.75,410.4 957.00,412.7 957.25,418.7 957.50,411.4 957.75,409.9 958.00,414.6 958.25,415.3 958.50,415.0 958.75,411.2 959.00,416.3 959.25,412.0 959.50,411.2 959.75,412.5 960.00,413.7 960.25,415.6 960.50,415.4 960.75,413.9 961.00,416.2 961.25,414.1 961.50,416.1 961.75,410.6 962.00,410.2 962.25,415.8 962.50,410.6 962.75,413.2 963.00,413.7 963.25,412.8 963.50,412.9 963.75,417.3 964.00,408.9 964.25,416.1 964.50,419.0 964.75,414.0 965.00,413.9 965.25,415.7 965.50,418.4 965.75,411.1 966.00,414.2 966.25,413.5 966.50,415.3 966.75,414.4 967.00,415.6 967.25,413.0 967.50,414.1 967.75,412.4 968.00,412.4 968.25,413.7 968.50,413.7 968.75,411.2 969.00,417.8 969.25,413.7 969.50,410.7 969.75,416.7 970.00,412.2 970.25,415.2 970.50,414.0 970.75,414.6 971.00,414.5 971.25,412.7 971.50,414.1 971.75,418.9 972.00,409.1 972.25,414.2 972.50,415.1 972.75,411.5 973.00,410.8 973.25,419.1 973.50,413.2 973.75,419.1 974.00,415.4 974.25,414.3 974.50,415.3 974.75,415.6 975.00,417.0 975.25,415.2 975.50,414.5 975.75,414.6 976.00,417.4 976.25,416.1 976.50,411.8 976.75,412.6 977.00,415.0 977.25,412.7 977.50,413.3 977.75,411.9 978.00,413.6 978.25,415.2 978.50,416.6 978.75,414.2 979.00,419.2 979.25,414.0 979.50,419.2 979.75,416.7 980.00,415.4 980.25,413.1 980.50,409.3 980.75,413.9 981.00,414.7 981.25,418.9 981.50,411.0 981.75,418.9 982.00,413.7 982.25,416.1 982.50,409.3 982.75,414.7 983.00,413.5 983.25,416.0 983.50,414.6 983.75,411.6 984.00,416.7 984.25,416.1 984.50,415.8 984.75,416.8 985.00,417.1 985.25,414.4 985.50,411.2 985.75,411.1 986.00,417.7 986.25,416.2 986.50,414.7 986.75,413.5 987.00,414.6 987.25,414.6 987.50,413.7 987.75,412.9 988.00,419.6 988.25,415.1 988.50,413.1 988.75,411.5 989.00,412.9 989.25,416.3 989.50,416.4 989.75,414.1 990.00,414.8 990.25,413.9 990.50,412.0 990.75,417.8 991.00,415.6" fill="none" stroke="#f00" stroke-width="2.4" stroke-linejoin="miter" stroke-miterlimit="6"/>
<polyline points="208.00,353.0 208.40,341.9 208.80,344.3 209.20,348.3 209.60,343.7 210.00,339.1 210.40,340.8 210.80,344.9 211.20,345.8 211.60,344.0 212.00,348.3 212.40,348.2 212.80,345.5 213.20,344.2 213.60,343.1 214.00,346.3 214.40,347.7 214.80,344.3 215.20,345.8 215.60,342.7 216.00,338.3 216.40,339.9 216.80,347.0 217.20,345.7 217.60,350.3 218.00,344.1 218.40,347.3 218.80,349.2 219.20,347.8 219.60,341.4 220.00,343.1 220.40,344.4 220.80,339.9 221.20,345.7 221.60,347.9 222.00,341.9 222.40,351.7 222.80,342.6 223.20,343.0 223.60,342.8 224.00,340.9 224.40,345.4 224.80,343.8 225.20,350.4 225.60,346.2 226.00,345.9 226.40,342.9 226.80,338.1 227.20,343.4 227.60,340.3 228.00,347.6 228.40,343.7 228.80,350.5 229.20,346.8 229.60,347.2 230.00,344.8 230.40,344.8 230.80,346.7 231.20,347.8 231.60,341.3 232.00,346.2 232.40,352.4 232.80,344.1 233.20,343.5 233.60,341.9 234.00,339.0 234.40,349.6 234.80,345.2 235.20,346.3 235.60,352.6 236.00,353.3 236.40,341.9 236.80,349.8 237.20,348.2 237.60,347.5 238.00,347.9 238.40,346.0 238.80,352.6 239.20,348.9 239.60,347.9 240.00,351.7 240.40,350.4 240.80,348.8 241.20,348.4 241.60,354.2 242.00,349.4 242.40,347.1 242.80,344.2 243.20,346.4 243.60,343.7 244.00,348.4 244.40,349.2 244.80,340.3 245.20,348.5 245.60,351.2 246.00,349.4 246.40,345.1 246.80,354.1 247.20,346.4 247.60,344.5 248.00,345.2 248.40,349.6 248.80,353.8 249.20,354.7 249.60,351.0 250.00,345.6 250.40,347.9 250.80,347.1 251.20,350.2 251.60,344.0 252.00,351.7 252.40,354.0 252.80,351.0 253.20,353.7 253.60,348.2 254.00,346.4 254.40,349.8 254.80,357.2 255.20,356.9 255.60,351.1 256.00,357.9 256.40,352.0 256.80,359.6 257.20,355.6 257.60,352.1 258.00,357.3 258.40,351.2 258.80,350.7 259.20,348.8 259.60,355.8 260.00,354.8 260.40,354.9 260.80,353.7 261.20,361.3 261.60,354.1 262.00,353.0 262.40,361.1 262.80,362.0 263.20,357.9 263.60,349.8 264.00,354.5 264.40,359.6 264.80,357.4 265.20,363.7 265.60,352.2 266.00,360.6 266.40,355.6 266.80,363.6 267.20,358.2 267.60,362.9 268.00,356.3 268.40,353.5 268.80,354.9 269.20,357.1 269.60,355.7 270.00,364.8 270.40,365.5 270.80,361.5 271.20,356.4 271.60,360.3 272.00,358.2 272.40,367.0 272.80,362.7 273.20,363.6 273.60,360.2 274.00,354.0 274.40,359.1 274.80,357.9 275.20,364.1 275.60,363.2 276.00,359.8 276.40,361.7 276.80,369.7 277.20,359.8 277.60,360.2 278.00,363.1 278.40,361.4 278.80,362.7 279.20,366.8 279.60,371.8 280.00,358.0 280.40,365.2 280.80,365.7 281.20,365.4 281.60,365.2 282.00,364.8 282.40,370.4 282.80,364.7 283.20,366.2 283.60,367.0 284.00,367.6 284.40,366.7 284.80,371.6 285.20,367.7 285.60,368.7 286.00,368.0 286.40,364.3 286.80,365.2 287.20,364.5 287.60,369.7 288.00,366.3 288.40,365.1 288.80,370.4 289.20,371.8 289.60,362.8 290.00,376.8 290.40,370.3 290.80,369.9 291.20,374.8 291.60,371.0 292.00,368.5 292.40,379.1 292.80,367.0 293.20,371.1 293.60,375.1 294.00,367.6 294.40,371.7 294.80,373.8 295.20,380.4 295.60,369.0 296.00,372.6 296.40,375.6 296.80,373.4 297.20,368.4 297.60,375.0 298.00,373.9 298.40,375.3 298.80,378.1 299.20,377.7 299.60,375.4 300.00,375.0 300.40,369.4 300.80,373.2 301.20,374.7 301.60,372.2 302.00,374.2 302.40,370.5 302.80,380.0 303.20,381.9 303.60,372.3 304.00,375.5 304.40,373.0 304.80,379.0 305.20,375.7 305.60,374.3 306.00,373.1 306.40,374.5 306.80,370.0 307.20,376.7 307.60,371.1 308.00,376.1 308.40,374.5 308.80,378.4 309.20,373.9 309.60,378.1 310.00,370.3 310.40,376.4 310.80,373.1 311.20,374.7 311.60,374.2 312.00,377.7 312.40,365.9 312.80,375.1 313.20,367.8 313.60,378.6 314.00,365.8 314.40,369.6 314.80,366.9 315.20,380.1 315.60,368.3 316.00,373.8 316.40,371.2 316.80,366.0 317.20,371.8 317.60,375.7 318.00,372.2 318.40,376.7 318.80,371.4 319.20,372.7 319.60,371.1 320.00,373.9 320.40,380.0 320.80,373.8 321.20,373.1 321.60,369.7 322.00,369.1 322.40,377.9 322.80,367.5 323.20,368.2 323.60,371.4 324.00,370.0 324.40,379.4 324.80,363.5 325.20,372.9 325.60,374.2 326.00,366.8 326.40,368.7 326.80,372.9 327.20,377.7 327.60,367.4 328.00,364.7 328.40,374.8 328.80,377.0 329.20,369.5 329.60,362.7 330.00,376.5 330.40,369.8 330.80,375.0 331.20,370.3 331.60,368.8 332.00,368.4 332.40,376.1 332.80,375.8 333.20,361.9 333.60,366.0 334.00,376.7 334.40,367.9 334.80,363.7 335.20,368.9 335.60,368.2 336.00,368.0 336.40,366.3 336.80,366.9 337.20,366.2 337.60,369.3 338.00,364.8 338.40,367.1 338.80,367.9 339.20,374.0 339.60,370.7 340.00,369.1 340.40,372.1 340.80,372.0 341.20,375.1 341.60,373.2 342.00,378.7 342.40,377.2 342.80,372.0 343.20,370.9 343.60,376.4 344.00,375.3 344.40,373.1 344.80,367.8 345.20,366.5 345.60,375.3 346.00,377.1 346.40,377.3 346.80,369.0 347.20,378.4 347.60,372.2 348.00,375.9 348.40,376.1 348.80,371.3 349.20,372.2 349.60,366.6 350.00,371.0 350.40,367.5 350.80,376.5 351.20,375.1 351.60,378.5 352.00,376.3 352.40,372.4 352.80,376.3 353.20,373.4 353.60,377.4 354.00,376.2 354.40,371.0 354.80,375.0 355.20,375.2 355.60,373.8 356.00,378.5 356.40,381.8 356.80,373.4 357.20,373.4 357.60,366.8 358.00,374.2 358.40,372.9 358.80,366.5 359.20,375.6 359.60,376.7 360.00,371.3 360.40,372.6 360.80,370.1 361.20,376.9 361.60,367.7 362.00,372.3 362.40,381.3 362.80,373.5 363.20,375.0 363.60,372.4 364.00,368.2 364.40,372.6 364.80,374.2 365.20,368.3 365.60,373.6 366.00,377.0 366.40,376.1 366.80,365.3 367.20,367.5 367.60,364.7 368.00,375.2 368.40,373.1 368.80,373.1 369.20,366.5 369.60,365.1 370.00,369.7 370.40,369.5 370.80,365.3 371.20,369.0 371.60,370.6 372.00,368.6 372.40,363.2 372.80,359.0 373.20,365.6 373.60,366.9 374.00,364.9 374.40,363.8 374.80,362.4 375.20,367.7 375.60,364.2 376.00,364.6 376.40,359.8 376.80,360.8 377.20,363.6 377.60,358.5 378.00,357.1 378.40,360.4 378.80,366.1 379.20,361.7 379.60,366.3 380.00,359.5 380.40,358.3 380.80,353.6 381.20,356.4 381.60,363.9 382.00,359.0 382.40,360.2 382.80,359.5 383.20,356.2 383.60,354.9 384.00,355.6 384.40,357.3 384.80,355.9 385.20,355.4 385.60,353.5 386.00,349.2 386.40,350.5 386.80,347.1 387.20,354.2 387.60,341.5 388.00,347.9 388.40,356.0 388.80,345.9 389.20,341.9 389.60,345.6 390.00,350.0 390.40,343.4 390.80,345.6 391.20,342.7 391.60,340.0 392.00,348.6 392.40,340.1 392.80,336.8 393.20,336.1 393.60,338.6 394.00,337.8 394.40,338.4 394.80,334.9 395.20,327.6 395.60,334.5 396.00,330.2 396.40,329.3 396.80,323.5 397.20,326.1 397.60,324.4 398.00,326.2 398.40,319.4 398.80,324.4 399.20,323.6 399.60,317.5 400.00,318.4 400.40,316.4 400.80,322.3 401.20,309.6 401.60,315.0 402.00,308.6 402.40,312.4 402.80,316.3 403.20,309.2 403.60,311.1 404.00,306.0 404.40,315.9 404.80,310.5 405.20,310.1 405.60,299.1 406.00,298.7 406.40,306.1 406.80,299.7 407.20,298.1 407.60,299.1 408.00,291.4 408.40,298.1 408.80,293.7 409.20,294.2 409.60,288.1 410.00,291.4 410.40,285.0 410.80,290.2 411.20,289.3 411.60,286.9 412.00,283.7 412.40,282.5 412.80,270.3 413.20,280.0 413.60,273.8 414.00,273.5 414.40,270.2 414.80,264.0 415.20,265.6 415.60,268.5 416.00,269.7 416.40,259.6 416.80,256.6 417.20,264.1 417.60,252.8 418.00,262.4 418.40,252.6 418.80,246.9 419.20,252.3 419.60,253.0 420.00,238.3 420.40,248.1 420.80,238.5 421.20,243.3 421.60,233.6 422.00,226.6 422.40,232.6 422.80,232.0 423.20,234.0 423.60,230.6 424.00,224.1 424.40,218.0 424.80,214.4 425.20,212.9 425.60,208.4 426.00,208.2 426.40,198.8 426.80,205.1 427.20,201.8 427.60,207.5 428.00,200.1 428.40,192.7 428.80,194.5 429.20,184.9 429.60,185.0 430.00,177.6 430.40,188.4 430.80,182.7 431.20,173.3 431.60,175.5 432.00,177.2 432.40,173.2 432.80,170.5 433.20,163.4 433.60,162.1 434.00,163.0 434.40,164.2 434.80,155.2 435.20,152.0 435.60,159.1 436.00,148.7 436.40,154.7 436.80,149.3 437.20,149.8 437.60,151.2 438.00,145.0 438.40,143.5 438.80,134.9 439.20,134.1 439.60,137.9 440.00,140.0 440.40,138.2 440.80,139.5 441.20,131.8 441.60,130.5 442.00,132.8 442.40,128.0 442.80,126.9 443.20,122.3 443.60,129.8 444.00,120.9 444.40,126.6 444.80,118.4 445.20,128.0 445.60,119.2 446.00,126.4 446.40,116.4 446.80,120.7 447.20,127.0 447.60,118.8 448.00,122.1 448.40,119.7 448.80,113.5 449.20,122.6 449.60,122.9 450.00,116.7 450.40,123.3 450.80,117.8 451.20,117.0 451.60,121.1 452.00,118.5 452.40,129.5 452.80,115.6 453.20,125.1 453.60,126.4 454.00,115.0 454.40,116.4 454.80,126.0 455.20,122.3 455.60,126.4 456.00,130.1 456.40,124.9 456.80,123.1 457.20,120.3 457.60,130.1 458.00,126.5 458.40,132.5 458.80,133.2 459.20,127.9 459.60,141.5 460.00,140.1 460.40,140.4 460.80,133.6 461.20,138.0 461.60,138.9 462.00,140.8 462.40,139.5 462.80,147.3 463.20,148.2 463.60,150.4 464.00,148.8 464.40,158.0 464.80,155.7 465.20,149.3 465.60,157.3 466.00,162.2 466.40,169.0 466.80,166.8 467.20,169.8 467.60,171.1 468.00,179.4 468.40,177.9 468.80,180.3 469.20,182.7 469.60,190.8 470.00,189.3 470.40,187.7 470.80,199.9 471.20,197.8 471.60,205.1 472.00,208.4 472.40,214.9 472.80,217.5 473.20,214.3 473.60,219.1 474.00,217.7 474.40,232.7 474.80,230.7 475.20,237.5 475.60,233.4 476.00,229.4 476.40,246.1 476.80,242.9 477.20,245.6 477.60,247.7 478.00,252.4 478.40,254.4 478.80,248.2 479.20,261.3 479.60,257.2 480.00,259.9 480.40,271.2 480.80,270.5 481.20,268.0 481.60,264.7 482.00,275.5 482.40,280.0 482.80,280.6 483.20,279.1 483.60,284.2 484.00,285.7 484.40,295.0 484.80,300.8 485.20,305.1 485.60,301.6 486.00,308.9 486.40,313.6 486.80,312.7 487.20,317.5 487.60,329.3 488.00,325.2 488.40,330.9 488.80,328.5 489.20,333.2 489.60,329.0 490.00,338.4 490.40,345.9 490.80,351.8 491.20,351.2 491.60,351.8 492.00,351.9 492.40,352.0 492.80,356.5 493.20,362.3 493.60,359.6 494.00,369.4 494.40,364.6 494.80,364.4 495.20,370.4 495.60,370.8 496.00,374.9 496.40,387.8 496.80,385.4 497.20,389.9 497.60,396.6 498.00,399.8 498.40,395.6 498.80,405.8 499.20,404.9 499.60,406.2 500.00,410.8 500.40,406.2 500.80,411.6 501.20,417.1 501.60,422.9 502.00,421.9 502.40,425.9 502.80,433.3 503.20,438.0 503.60,438.4 504.00,443.4 504.40,439.6 504.80,442.8 505.20,448.1 505.60,448.3 506.00,450.1 506.40,461.3 506.80,456.2 507.20,455.4 507.60,463.5 508.00,471.0 508.40,466.1 508.80,472.8 509.20,468.2 509.60,470.0 510.00,471.2 510.40,475.3 510.80,485.1 511.20,475.0 511.60,488.0 512.00,479.2 512.40,484.1 512.80,490.1 513.20,491.0 513.60,491.3 514.00,485.2 514.40,494.9 514.80,491.0 515.20,504.7 515.60,497.4 516.00,500.6 516.40,496.8 516.80,501.0 517.20,499.2 517.60,509.7 518.00,506.1 518.40,510.8 518.80,507.1 519.20,509.1 519.60,517.4 520.00,509.6 520.40,507.4 520.80,517.3 521.20,512.2 521.60,516.0 522.00,522.4 522.40,516.5 522.80,524.2 523.20,518.9 523.60,528.6 524.00,528.8 524.40,522.6 524.80,524.5 525.20,523.0 525.60,528.1 526.00,532.8 526.40,523.4 526.80,533.8 527.20,525.8 527.60,528.7 528.00,526.0 528.40,542.4 528.80,535.5 529.20,537.3 529.60,534.7 530.00,542.7 530.40,531.3 530.80,540.6 531.20,549.8 531.60,541.1 532.00,543.7 532.40,547.3 532.80,542.3 533.20,546.7 533.60,551.4 534.00,549.2 534.40,550.8 534.80,548.8 535.20,552.3 535.60,552.0 536.00,558.5 536.40,556.4 536.80,553.3 537.20,546.7 537.60,558.7 538.00,559.7 538.40,553.7 538.80,550.0 539.20,554.2 539.60,563.3 540.00,556.0 540.40,559.1 540.80,562.5 541.20,567.2 541.60,562.8 542.00,563.0 542.40,561.7 542.80,571.1 543.20,569.3 543.60,565.1 544.00,560.2 544.40,563.2 544.80,569.2 545.20,564.4 545.60,571.4 546.00,569.7 546.40,569.8 546.80,571.7 547.20,571.5 547.60,566.4 548.00,568.9 548.40,579.2 548.80,566.0 549.20,569.2 549.60,575.8 550.00,571.0 550.40,568.6 550.80,566.6 551.20,574.3 551.60,576.4 552.00,578.0 552.40,572.6 552.80,576.7 553.20,568.3 553.60,573.3 554.00,569.9 554.40,573.5 554.80,575.9 555.20,577.3 555.60,568.9 556.00,578.2 556.40,571.1 556.80,568.9 557.20,572.4 557.60,567.2 558.00,573.2 558.40,574.4 558.80,572.4 559.20,575.5 559.60,572.0 560.00,573.3 560.40,567.4 560.80,573.5 561.20,569.8 561.60,571.3 562.00,572.7 562.40,573.7 562.80,566.0 563.20,566.1 563.60,571.0 564.00,574.0 564.40,573.2 564.80,575.2 565.20,576.5 565.60,572.9 566.00,570.5 566.40,566.0 566.80,566.1 567.20,567.7 567.60,570.4 568.00,570.0 568.40,568.8 568.80,567.8 569.20,570.7 569.60,568.6 570.00,568.6 570.40,568.3 570.80,564.4 571.20,562.0 571.60,567.8 572.00,567.1 572.40,564.1 572.80,562.8 573.20,573.2 573.60,560.5 574.00,562.3 574.40,563.8 574.80,557.5 575.20,562.3 575.60,568.8 576.00,564.7 576.40,563.0 576.80,562.4 577.20,559.9 577.60,562.9 578.00,557.8 578.40,556.1 578.80,557.8 579.20,560.6 579.60,557.7 580.00,558.5 580.40,546.8 580.80,559.6 581.20,563.3 581.60,559.0 582.00,551.6 582.40,548.8 582.80,552.9 583.20,547.0 583.60,553.6 584.00,547.8 584.40,553.3 584.80,554.4 585.20,539.7 585.60,548.7 586.00,544.0 586.40,540.4 586.80,543.0 587.20,544.0 587.60,548.6 588.00,537.3 588.40,547.3 588.80,550.7 589.20,544.1 589.60,543.2 590.00,540.2 590.40,534.6 590.80,541.1 591.20,539.8 591.60,540.6 592.00,546.3 592.40,539.2 592.80,537.3 593.20,541.3 593.60,528.5 594.00,528.7 594.40,531.2 594.80,529.4 595.20,534.3 595.60,529.4 596.00,537.4 596.40,535.8 596.80,531.9 597.20,526.4 597.60,529.9 598.00,530.0 598.40,521.4 598.80,526.6 599.20,527.4 599.60,524.6 600.00,529.6 600.40,527.3 600.80,518.0 601.20,521.2 601.60,516.4 602.00,521.5 602.40,514.6 602.80,521.3 603.20,518.3 603.60,519.9 604.00,514.4 604.40,508.0 604.80,520.7 605.20,511.7 605.60,517.4 606.00,512.5 606.40,512.7 606.80,516.7 607.20,509.5 607.60,513.1 608.00,500.1 608.40,509.1 608.80,503.5 609.20,503.1 609.60,502.8 610.00,503.3 610.40,507.9 610.80,492.1 611.20,499.1 611.60,494.9 612.00,501.9 612.40,494.2 612.80,496.9 613.20,492.3 613.60,495.8 614.00,496.3 614.40,489.4 614.80,490.3 615.20,483.1 615.60,489.4 616.00,490.8 616.40,483.8 616.80,490.0 617.20,475.5 617.60,475.6 618.00,476.7 618.40,479.6 618.80,480.9 619.20,479.7 619.60,478.9 620.00,481.5 620.40,475.6 620.80,471.5 621.20,470.8 621.60,484.3 622.00,464.6 622.40,473.1 622.80,479.3 623.20,474.5 623.60,468.2 624.00,471.0 624.40,474.0 624.80,474.8 625.20,465.1 625.60,471.5 626.00,468.6 626.40,471.6 626.80,472.1 627.20,464.0 627.60,458.6 628.00,465.8 628.40,471.0 628.80,465.6 629.20,462.9 629.60,471.5 630.00,456.1 630.40,463.6 630.80,456.6 631.20,458.5 631.60,457.9 632.00,463.2 632.40,452.0 632.80,452.9 633.20,447.6 633.60,455.8 634.00,451.0 634.40,454.0 634.80,446.8 635.20,449.1 635.60,454.4 636.00,448.5 636.40,451.2 636.80,450.1 637.20,445.6 637.60,439.7 638.00,450.0 638.40,445.9 638.80,448.7 639.20,435.2 639.60,436.2 640.00,433.5 640.40,438.4 640.80,446.1 641.20,443.5 641.60,440.4 642.00,440.6 642.40,442.8 642.80,437.7 643.20,440.3 643.60,438.7 644.00,428.2 644.40,435.5 644.80,442.5 645.20,434.5 645.60,435.1 646.00,432.7 646.40,432.8 646.80,439.2 647.20,432.8 647.60,429.1 648.00,422.5 648.40,430.1 648.80,423.7 649.20,423.8 649.60,434.6 650.00,433.8 650.40,422.1 650.80,433.5 651.20,431.4 651.60,425.5 652.00,431.6 652.40,421.0 652.80,422.3 653.20,420.8 653.60,421.8 654.00,429.9 654.40,419.9 654.80,420.2 655.20,420.7 655.60,425.1 656.00,422.4 656.40,427.1 656.80,419.9 657.20,417.0 657.60,420.0 658.00,421.9 658.40,417.3 658.80,422.1 659.20,428.3 659.60,417.6 660.00,420.0 660.40,425.2 660.80,416.2 661.20,415.0 661.60,413.6 662.00,419.6 662.40,419.8 662.80,416.6 663.20,417.0 663.60,421.9 664.00,419.8 664.40,409.7 664.80,415.3 665.20,415.5 665.60,417.8 666.00,413.4 666.40,411.2 666.80,411.7 667.20,405.7 667.60,412.9 668.00,410.1 668.40,414.4 668.80,407.6 669.20,409.9 669.60,407.3 670.00,406.6 670.40,413.9 670.80,408.6 671.20,412.3 671.60,405.3 672.00,410.3 672.40,402.4 672.80,407.4 673.20,407.1 673.60,411.6 674.00,409.7 674.40,408.0 674.80,412.2 675.20,409.3 675.60,410.6 676.00,411.4 676.40,407.7 676.80,406.6 677.20,409.1 677.60,405.8 678.00,409.1 678.40,412.1 678.80,410.9 679.20,405.4 679.60,401.4 680.00,406.5 680.40,406.1 680.80,411.3 681.20,404.8 681.60,405.4 682.00,409.3 682.40,404.0 682.80,405.2 683.20,413.2 683.60,412.1 684.00,408.3 684.40,406.6 684.80,401.2 685.20,407.7 685.60,405.4 686.00,406.0 686.40,402.7 686.80,404.8 687.20,404.0 687.60,406.0 688.00,410.7 688.40,406.1 688.80,397.3 689.20,400.2 689.60,397.5 690.00,400.8 690.40,406.5 690.80,405.8 691.20,401.4 691.60,405.1 692.00,400.6 692.40,397.7 692.80,397.7 693.20,400.0 693.60,409.7 694.00,397.8 694.40,408.9 694.80,409.2 695.20,402.7 695.60,403.2 696.00,400.8 696.40,403.3 696.80,406.2 697.20,403.4 697.60,407.6 698.00,408.4 698.40,404.7 698.80,404.7 699.20,403.0 699.60,404.7 700.00,398.4 700.40,405.0 700.80,404.1 701.20,399.5 701.60,412.4 702.00,399.0 702.40,399.4 702.80,404.4 703.20,394.8 703.60,399.7 704.00,396.6 704.40,399.0 704.80,402.5 705.20,404.5 705.60,407.8 706.00,406.5 706.40,408.2 706.80,405.6 707.20,401.1 707.60,407.8 708.00,401.0 708.40,400.4 708.80,409.6 709.20,406.4 709.60,404.0 710.00,406.2 710.40,406.8 710.80,397.2 711.20,402.6 711.60,397.9 712.00,403.5 712.40,400.1 712.80,408.8 713.20,405.2 713.60,399.5 714.00,402.9 714.40,397.8 714.80,403.1 715.20,405.3 715.60,404.1 716.00,394.7 716.40,401.5 716.80,405.1 717.20,404.3 717.60,407.9 718.00,397.4 718.40,405.2 718.80,400.2 719.20,403.8 719.60,404.7 720.00,405.9 720.40,400.5 720.80,403.8 721.20,398.0 721.60,396.9 722.00,405.4 722.40,402.8 722.80,396.1 723.20,399.4 723.60,403.1 724.00,409.7 724.40,407.6 724.80,406.5 725.20,395.4 725.60,402.7 726.00,405.2 726.40,404.8 726.80,405.0 727.20,402.2 727.60,410.8 728.00,409.6 728.40,402.8 728.80,399.0 729.20,412.1 729.60,400.9 730.00,408.5 730.40,411.6 730.80,399.3 731.20,404.6 731.60,401.9 732.00,405.7 732.40,404.8 732.80,411.9 733.20,406.1 733.60,403.5 734.00,408.4 734.40,402.4 734.80,402.0 735.20,413.3 735.60,400.1 736.00,401.6 736.40,403.9 736.80,399.2 737.20,394.7 737.60,408.4 738.00,400.5 738.40,401.5 738.80,402.3 739.20,399.7 739.60,399.3 740.00,404.7 740.40,414.3 740.80,407.2 741.20,407.3 741.60,397.6 742.00,404.0 742.40,399.1 742.80,407.5 743.20,403.3 743.60,404.4 744.00,403.9 744.40,401.8 744.80,397.8 745.20,406.9 745.60,398.5 746.00,399.4 746.40,403.2 746.80,401.5 747.20,405.7 747.60,408.9 748.00,405.7 748.40,405.5 748.80,404.8 749.20,408.4 749.60,396.8 750.00,406.4 750.40,400.8 750.80,399.5 751.20,404.9 751.60,403.2 752.00,407.4 752.40,409.7 752.80,395.0 753.20,404.7 753.60,413.5 754.00,408.8 754.40,411.3 754.80,405.6 755.20,399.0 755.60,400.3 756.00,408.3 756.40,409.4 756.80,402.1 757.20,404.1 757.60,406.4 758.00,397.8 758.40,403.8 758.80,412.3 759.20,414.8 759.60,405.0 760.00,413.3 760.40,403.2 760.80,402.0 761.20,395.9 761.60,409.7 762.00,404.0 762.40,415.7 762.80,407.1 763.20,406.5 763.60,397.9 764.00,412.2 764.40,404.2 764.80,405.1 765.20,396.3 765.60,409.8 766.00,410.1 766.40,403.3 766.80,406.3 767.20,407.6 767.60,410.1 768.00,406.4 768.40,413.4 768.80,405.0 769.20,403.4 769.60,404.1 770.00,395.9 770.40,402.7 770.80,410.5 771.20,407.3 771.60,402.7 772.00,407.7 772.40,397.6 772.80,405.1 773.20,408.6 773.60,409.4 774.00,403.0 774.40,410.3 774.80,414.5 775.20,404.6 775.60,409.7 776.00,399.8 776.40,398.1 776.80,409.2 777.20,406.8 777.60,407.5 778.00,404.1 778.40,405.4 778.80,410.2 779.20,414.1 779.60,405.8 780.00,399.7 780.40,412.3 780.80,409.4 781.20,409.8 781.60,407.7 782.00,416.9 782.40,407.3 782.80,409.2 783.20,399.1 783.60,404.6 784.00,404.1 784.40,407.0 784.80,408.6 785.20,403.9 785.60,414.6 786.00,402.6 786.40,405.3 786.80,408.3 787.20,401.9 787.60,409.8 788.00,410.1 788.40,406.1 788.80,415.6 789.20,407.8 789.60,408.7 790.00,403.4 790.40,400.4 790.80,404.9 791.20,406.2 791.60,405.7 792.00,411.0 792.40,397.4 792.80,402.9 793.20,399.9 793.60,413.6 794.00,405.4 794.40,405.7 794.80,403.2 795.20,411.8 795.60,406.2 796.00,409.0 796.40,399.3 796.80,413.1 797.20,409.8 797.60,410.5 798.00,413.5 798.40,407.4 798.80,407.5 799.20,411.4 799.60,410.1 800.00,407.3 800.40,408.6 800.80,406.2 801.20,411.5 801.60,412.5 802.00,408.6 802.40,416.7 802.80,402.0 803.20,407.6 803.60,416.1 804.00,406.9 804.40,401.9 804.80,414.8 805.20,411.2 805.60,403.7 806.00,412.3 806.40,404.6 806.80,403.2 807.20,408.4 807.60,407.0 808.00,404.4 808.40,407.6 808.80,404.9 809.20,409.5 809.60,409.2 810.00,412.5 810.40,407.4 810.80,403.7 811.20,403.8 811.60,408.4 812.00,416.2 812.40,413.2 812.80,406.9 813.20,413.7 813.60,404.7 814.00,414.1 814.40,408.2 814.80,413.2 815.20,412.6 815.60,408.7 816.00,411.4 816.40,405.4 816.80,409.7 817.20,414.8 817.60,420.8 818.00,413.2 818.40,410.6 818.80,405.9 819.20,414.9 819.60,403.2 820.00,406.9 820.40,412.0 820.80,405.3 821.20,417.2 821.60,415.3 822.00,408.2 822.40,408.2 822.80,405.0 823.20,404.7 823.60,412.7 824.00,413.5 824.40,412.4 824.80,412.0 825.20,408.5 825.60,412.5 826.00,404.7 826.40,411.1 826.80,417.4 827.20,416.8 827.60,409.2 828.00,409.8 828.40,417.2 828.80,419.0 829.20,404.9 829.60,409.5 830.00,412.4 830.40,416.7 830.80,407.8 831.20,414.3 831.60,410.2 832.00,421.8 832.40,413.5 832.80,411.1 833.20,410.2 833.60,416.3 834.00,414.7 834.40,407.1 834.80,412.7 835.20,406.1 835.60,408.6 836.00,406.3 836.40,406.2 836.80,409.0 837.20,407.8 837.60,414.3 838.00,415.5 838.40,411.1 838.80,407.3 839.20,415.6 839.60,403.5 840.00,403.9 840.40,415.4 840.80,415.1 841.20,416.5 841.60,411.4 842.00,407.0 842.40,410.2 842.80,414.9 843.20,409.2 843.60,409.5 844.00,406.5 844.40,407.6 844.80,416.3 845.20,414.6 845.60,407.7 846.00,408.1 846.40,410.3 846.80,415.2 847.20,407.8 847.60,412.1 848.00,403.6 848.40,407.5 848.80,414.8 849.20,416.9 849.60,408.0 850.00,409.7 850.40,416.5 850.80,411.4 851.20,410.8 851.60,415.4 852.00,414.1 852.40,418.1 852.80,416.7 853.20,410.8 853.60,412.8 854.00,413.1 854.40,407.6 854.80,409.2 855.20,417.7 855.60,406.6 856.00,417.8 856.40,414.8 856.80,413.0 857.20,415.9 857.60,415.7 858.00,418.9 858.40,412.0 858.80,412.7 859.20,412.7 859.60,421.9 860.00,417.9 860.40,409.9 860.80,412.4 861.20,410.8 861.60,414.0 862.00,414.9 862.40,423.9 862.80,406.1 863.20,418.5 863.60,415.9 864.00,411.0 864.40,413.4 864.80,412.0 865.20,414.4 865.60,418.5 866.00,407.6 866.40,419.9 866.80,412.6 867.20,420.7 867.60,416.1 868.00,419.6 868.40,416.8 868.80,419.0 869.20,414.6 869.60,410.8 870.00,417.3 870.40,417.5 870.80,423.5 871.20,405.8 871.60,413.6 872.00,419.1 872.40,409.1 872.80,413.5 873.20,423.7 873.60,420.7 874.00,410.8 874.40,420.7 874.80,419.7 875.20,417.9 875.60,416.3 876.00,415.7 876.40,410.9 876.80,412.4 877.20,417.8 877.60,415.3 878.00,422.7 878.40,413.3 878.80,404.4 879.20,413.3 879.60,415.9 880.00,416.4 880.40,415.1 880.80,411.2 881.20,421.2 881.60,412.0 882.00,417.9 882.40,413.6 882.80,409.7 883.20,421.0 883.60,404.5 884.00,411.2 884.40,416.8 884.80,413.4 885.20,418.2 885.60,414.5 886.00,413.0 886.40,424.3 886.80,414.0 887.20,414.3 887.60,410.3 888.00,411.8 888.40,417.8 888.80,417.5 889.20,415.1 889.60,412.1 890.00,418.0 890.40,407.8 890.80,413.6 891.20,414.0 891.60,411.5 892.00,415.8 892.40,412.3 892.80,411.7 893.20,422.9 893.60,418.4 894.00,420.4 894.40,415.4 894.80,419.4 895.20,418.6 895.60,420.5 896.00,425.4 896.40,414.3 896.80,416.4 897.20,415.1 897.60,404.8 898.00,409.3 898.40,415.4 898.80,418.0 899.20,412.9 899.60,420.2 900.00,420.9 900.40,413.6 900.80,421.5 901.20,422.9 901.60,417.4 902.00,411.2 902.40,421.7 902.80,414.7 903.20,413.8 903.60,415.9 904.00,413.1 904.40,420.1 904.80,418.8 905.20,420.7 905.60,418.0 906.00,412.0 906.40,414.8 906.80,419.2 907.20,413.7 907.60,426.0 908.00,414.4 908.40,413.0 908.80,420.4 909.20,418.7 909.60,415.4 910.00,414.5 910.40,417.3 910.80,419.1 911.20,418.8 911.60,414.2 912.00,417.4 912.40,419.1 912.80,418.8 913.20,405.0 913.60,411.7 914.00,412.2 914.40,414.5 914.80,416.3 915.20,419.4 915.60,418.1 916.00,414.9 916.40,415.6 916.80,423.0 917.20,412.8 917.60,416.7 918.00,422.2 918.40,416.9 918.80,406.6 919.20,417.0 919.60,413.7 920.00,414.9 920.40,419.9 920.80,417.4 921.20,414.2 921.60,419.1 922.00,417.2 922.40,415.7 922.80,416.5 923.20,416.3 923.60,413.7 924.00,413.2 924.40,415.3 924.80,411.0 925.20,409.7 925.60,420.7 926.00,414.1 926.40,415.0 926.80,414.5 927.20,415.1 927.60,415.1 928.00,415.3 928.40,411.5 928.80,418.9 929.20,411.9 929.60,419.3 930.00,406.6 930.40,410.3 930.80,419.1 931.20,414.1 931.60,411.9 932.00,416.3 932.40,410.2 932.80,415.0 933.20,405.1 933.60,412.7 934.00,411.8 934.40,416.9 934.80,418.3 935.20,410.9 935.60,421.4 936.00,411.9 936.40,405.6 936.80,404.2 937.20,421.0 937.60,414.0 938.00,411.6 938.40,411.1 938.80,409.6 939.20,420.1 939.60,413.9 940.00,422.0 940.40,413.4 940.80,404.1 941.20,417.8 941.60,412.6 942.00,413.1 942.40,420.9 942.80,413.0 943.20,419.1 943.60,414.1 944.00,410.8 944.40,416.2 944.80,411.5 945.20,419.3 945.60,418.1 946.00,414.3 946.40,416.6 946.80,416.4 947.20,412.8 947.60,417.8 948.00,413.0 948.40,416.6 948.80,409.8 949.20,414.4 949.60,415.7 950.00,410.5 950.40,412.1 950.80,411.6 951.20,417.0 951.60,410.8 952.00,415.8 952.40,420.5 952.80,415.5 953.20,407.0 953.60,414.5 954.00,418.4 954.40,412.7 954.80,418.7 955.20,416.6 955.60,415.7 956.00,412.8 956.40,411.7 956.80,412.8 957.20,414.2 957.60,416.2 958.00,415.8 958.40,412.7 958.80,414.2 959.20,415.6 959.60,407.0 960.00,410.7 960.40,410.5 960.80,413.1 961.20,412.8 961.60,412.9 962.00,410.2 962.40,416.9 962.80,415.2 963.20,406.9 963.60,414.1 964.00,409.2 964.40,421.3 964.80,412.1 965.20,412.3 965.60,414.4 966.00,413.2 966.40,413.8 966.80,420.7 967.20,415.0 967.60,417.7 968.00,418.9 968.40,409.9 968.80,421.3 969.20,417.0 969.60,418.2 970.00,410.4 970.40,417.6 970.80,415.9 971.20,411.8 971.60,423.9 972.00,416.6 972.40,413.1 972.80,415.0 973.20,418.1 973.60,419.0 974.00,416.7 974.40,419.4 974.80,420.5 975.20,408.9 975.60,412.1 976.00,410.2 976.40,414.7 976.80,420.5 977.20,417.1 977.60,409.8 978.00,413.0 978.40,418.7 978.80,412.0 979.20,413.9 979.60,415.6 980.00,406.5 980.40,417.7 980.80,415.8 981.20,416.8 981.60,410.2 982.00,411.1 982.40,411.9 982.80,415.5 983.20,414.7 983.60,415.0 984.00,422.2 984.40,420.1 984.80,411.4 985.20,411.7 985.60,421.9 986.00,413.2 986.40,420.5 986.80,421.5 987.20,412.3 987.60,413.5 988.00,415.0 988.40,410.9 988.80,410.5 989.20,413.0 989.60,418.4 990.00,412.8 990.40,413.9 990.80,412.8 991.20,408.9" fill="none" stroke="#f00" stroke-width="1" stroke-linejoin="miter" stroke-miterlimit="6"/>
<polyline points="228.75,396.3 229.00,389.9 229.25,392.7 229.50,394.7 229.75,391.4 230.00,394.8 230.25,395.9 230.50,392.3 230.75,394.1 231.00,391.9 231.25,394.6 231.50,393.9 231.75,394.1 232.00,396.1 232.25,394.6 232.50,396.1 232.75,394.9 233.00,391.7 233.25,394.2 233.50,394.6 233.75,391.3 234.00,396.0 234.25,393.9 234.50,394.4 234.75,392.3 235.00,393.9 235.25,394.3 235.50,393.2 235.75,393.9 236.00,390.2 236.25,396.1 236.50,391.9 236.75,390.1 237.00,392.1 237.25,392.4 237.50,394.7 237.75,392.2 238.00,394.3 238.25,392.1 238.50,397.5 238.75,394.7 239.00,397.1 239.25,392.0 239.50,394.9 239.75,392.1 240.00,394.8 240.25,394.9 240.50,391.1 240.75,391.8 241.00,391.8 241.25,391.2 241.50,392.5 241.75,392.1 242.00,391.3 242.25,393.9 242.50,394.7 242.75,391.5 243.00,392.8 243.25,393.8 243.50,393.4 243.75,392.6 244.00,395.1 244.25,395.2 244.50,394.9 244.75,393.4 245.00,397.1 245.25,396.7 245.50,393.1 245.75,393.5 246.00,395.8 246.25,392.4 246.50,394.4 246.75,393.8 247.00,392.6 247.25,393.4 247.50,391.1 247.75,392.8 248.00,390.4 248.25,397.6 248.50,396.3 248.75,395.8 249.00,394.3 249.25,395.4 249.50,395.9 249.75,395.5 250.00,395.3 250.25,392.2 250.50,394.5 250.75,392.8 251.00,391.7 251.25,391.8 251.50,394.5 251.75,395.5 252.00,391.4 252.25,396.7 252.50,396.2 252.75,393.1 253.00,392.9 253.25,393.6 253.50,395.4 253.75,393.1 254.00,391.8 254.25,394.3 254.50,390.2 254.75,394.0 255.00,395.7 255.25,394.2 255.50,395.0 255.75,394.5 256.00,394.9 256.25,394.0 256.50,392.3 256.75,393.3 257.00,393.6 257.25,395.8 257.50,396.5 257.75,394.4 258.00,392.4 258.25,392.5 258.50,393.4 258.75,396.1 259.00,394.3 259.25,393.6 259.50,392.4 259.75,395.2 260.00,394.2 260.25,393.6 260.50,393.9 260.75,396.6 261.00,393.4 261.25,396.6 261.50,395.8 261.75,393.8 262.00,395.2 262.25,393.5 262.50,392.3 262.75,393.2 263.00,392.1 263.25,394.6 263.50,393.7 263.75,394.6 264.00,395.1 264.25,389.8 264.50,394.2 264.75,390.6 265.00,394.0 265.25,392.2 265.50,393.8 265.75,396.0 266.00,390.8 266.25,394.0 266.50,393.5 266.75,390.5 267.00,394.8 267.25,393.7 267.50,392.8 267.75,392.4 268.00,397.5 268.25,393.0 268.50,390.6 268.75,392.1 269.00,393.0 269.25,393.0 269.50,393.5 269.75,391.9 270.00,394.6 270.25,392.8 270.50,391.3 270.75,392.3 271.00,393.0 271.25,395.1 271.50,394.5 271.75,393.1 272.00,393.7 272.25,394.0 272.50,397.1 272.75,392.6 273.00,394.4 273.25,394.9 273.50,392.0 273.75,394.0 274.00,393.9 274.25,392.8 274.50,394.6 274.75,395.4 275.00,395.6 275.25,393.3 275.50,394.0 275.75,397.5 276.00,391.8 276.25,394.0 276.50,395.1 276.75,393.9 277.00,394.7 277.25,393.9 277.50,394.9 277.75,395.8 278.00,393.2 278.25,394.0 278.50,393.5 278.75,392.9 279.00,393.6 279.25,391.7 279.50,394.9 279.75,396.5 280.00,396.5 280.25,395.8 280.50,392.0 280.75,396.2 281.00,392.4 281.25,393.5 281.50,396.7 281.75,391.8 282.00,395.0 282.25,394.1 282.50,393.3 282.75,392.1 283.00,394.3 283.25,392.8 283.50,395.4 283.75,395.7 284.00,391.2 284.25,392.7 284.50,393.0 284.75,391.6 285.00,391.7 285.25,393.7 285.50,393.2 285.75,390.8 286.00,392.7 286.25,394.5 286.50,391.5 286.75,392.0 287.00,396.3 287.25,395.8 287.50,390.8 287.75,391.3 288.00,394.2 288.25,391.5 288.50,393.1 288.75,392.8 289.00,394.5 289.25,389.7 289.50,389.8 289.75,391.5 290.00,395.3 290.25,393.3 290.50,390.6 290.75,394.4 291.00,394.8 291.25,393.1 291.50,393.0 291.75,394.3 292.00,395.6 292.25,393.8 292.50,394.4 292.75,393.5 293.00,392.9 293.25,392.0 293.50,394.0 293.75,393.0 294.00,393.1 294.25,395.1 294.50,394.4 294.75,395.0 295.00,390.8 295.25,394.5 295.50,392.5 295.75,392.2 296.00,392.1 296.25,395.6 296.50,394.9 296.75,392.3 297.00,391.6 297.25,393.5 297.50,392.7 297.75,396.3 298.00,391.0 298.25,390.4 298.50,393.1 298.75,393.5 299.00,393.7 299.25,394.8 299.50,397.0 299.75,392.9 300.00,392.6 300.25,390.5 300.50,393.9 300.75,394.9 301.00,393.1 301.25,395.5 301.50,393.5 301.75,396.1 302.00,394.1 302.25,391.7 302.50,392.4 302.75,390.9 303.00,390.5 303.25,393.9 303.50,395.0 303.75,396.8 304.00,393.4 304.25,393.1 304.50,391.6 304.75,395.2 305.00,394.1 305.25,392.5 305.50,394.6 305.75,394.4 306.00,390.3 306.25,394.7 306.50,393.7 306.75,392.8 307.00,392.7 307.25,396.4 307.50,396.1 307.75,396.6 308.00,391.5 308.25,392.3 308.50,395.0 308.75,391.4 309.00,392.2 309.25,390.4 309.50,396.6 309.75,395.2 310.00,394.2 310.25,393.8 310.50,392.7 310.75,392.8 311.00,394.5 311.25,392.2 311.50,395.5 311.75,392.6 312.00,391.9 312.25,395.6 312.50,393.2 312.75,394.4 313.00,392.7 313.25,389.6 313.50,394.3 313.75,391.1 314.00,395.3 314.25,390.8 314.50,390.2 314.75,393.9 315.00,394.1 315.25,393.6 315.50,391.3 315.75,394.9 316.00,390.9 316.25,392.6 316.50,392.1 316.75,392.7 317.00,394.8 317.25,392.3 317.50,394.3 317.75,394.6 318.00,390.5 318.25,391.4 318.50,392.7 318.75,392.4 319.00,393.9 319.25,390.1 319.50,394.6 319.75,394.6 320.00,393.1 320.25,391.0 320.50,393.4 320.75,392.4 321.00,394.3 321.25,393.2 321.50,394.6 321.75,392.6 322.00,395.8 322.25,389.5 322.50,391.6 322.75,394.2 323.00,390.8 323.25,394.6 323.50,391.3 323.75,393.5 324.00,391.8 324.25,392.6 324.50,393.6 324.75,393.1 325.00,392.7 325.25,397.0 325.50,393.3 325.75,391.7 326.00,394.9 326.25,394.7 326.50,395.4 326.75,396.3 327.00,391.7 327.25,395.1 327.50,395.2 327.75,393.3 328.00,393.7 328.25,389.4 328.50,392.3 328.75,396.3 329.00,390.2 329.25,392.4 329.50,393.8 329.75,394.2 330.00,396.0 330.25,390.3 330.50,393.3 330.75,394.7 331.00,391.0 331.25,393.2 331.50,396.4 331.75,395.5 332.00,394.2 332.25,389.4 332.50,393.0 332.75,393.9 333.00,392.7 333.25,393.1 333.50,397.1 333.75,392.8 334.00,391.6 334.25,393.6 334.50,392.7 334.75,392.7 335.00,393.0 335.25,394.5 335.50,393.6 335.75,391.1 336.00,393.0 336.25,394.0 336.50,392.4 336.75,395.1 337.00,394.5 337.25,391.5 337.50,393.7 337.75,396.5 338.00,395.8 338.25,393.1 338.50,394.7 338.75,392.0 339.00,390.7 339.25,394.1 339.50,393.5 339.75,394.0 340.00,393.1 340.25,393.7 340.50,392.2 340.75,393.9 341.00,394.5 341.25,393.0 341.50,394.5 341.75,390.1 342.00,391.7 342.25,395.5 342.50,396.1 342.75,393.5 343.00,392.9 343.25,390.9 343.50,393.7 343.75,394.4 344.00,390.5 344.25,394.0 344.50,393.9 344.75,393.8 345.00,391.1 345.25,393.9 345.50,390.5 345.75,395.5 346.00,393.2 346.25,391.0 346.50,395.3 346.75,395.0 347.00,391.9 347.25,396.7 347.50,391.3 347.75,393.5 348.00,395.0 348.25,389.1 348.50,394.7 348.75,392.8 349.00,392.9 349.25,391.1 349.50,393.5 349.75,391.0 350.00,391.3 350.25,392.2 350.50,390.8 350.75,395.6 351.00,390.6 351.25,391.6 351.50,392.3 351.75,392.9 352.00,394.2 352.25,394.3 352.50,392.3 352.75,392.2 353.00,392.9 353.25,394.2 353.50,394.0 353.75,392.0 354.00,389.3 354.25,396.5 354.50,394.4 354.75,393.3 355.00,393.4 355.25,391.9 355.50,391.1 355.75,392.2 356.00,392.4 356.25,391.7 356.50,390.3 356.75,392.2 357.00,393.7 357.25,391.9 357.50,392.8 357.75,389.2 358.00,392.4 358.25,392.5 358.50,390.6 358.75,389.8 359.00,393.4 359.25,391.3 359.50,393.5 359.75,392.0 360.00,393.7 360.25,392.1 360.50,390.1 360.75,392.5 361.00,392.1 361.25,393.7 361.50,391.8 361.75,391.9 362.00,394.1 362.25,394.6 362.50,393.9 362.75,394.3 363.00,393.3 363.25,393.9 363.50,394.0 363.75,393.2 364.00,392.6 364.25,392.8 364.50,396.4 364.75,392.5 365.00,392.1 365.25,391.9 365.50,392.4 365.75,392.9 366.00,390.5 366.25,389.1 366.50,392.9 366.75,389.7 367.00,392.8 367.25,392.6 367.50,394.3 367.75,395.1 368.00,392.9 368.25,391.3 368.50,390.2 368.75,390.8 369.00,392.2 369.25,388.6 369.50,392.2 369.75,392.0 370.00,393.0 370.25,391.3 370.50,392.0 370.75,390.6 371.00,391.0 371.25,388.7 371.50,391.9 371.75,394.3 372.00,391.9 372.25,392.2 372.50,389.8 372.75,393.9 373.00,390.1 373.25,392.7 373.50,391.5 373.75,389.6 374.00,392.9 374.25,391.1 374.50,391.4 374.75,391.8 375.00,390.9 375.25,390.3 375.50,391.6 375.75,390.1 376.00,390.9 376.25,389.6 376.50,388.1 376.75,389.5 377.00,389.7 377.25,390.5 377.50,392.5 377.75,387.5 378.00,390.6 378.25,386.5 378.50,388.5 378.75,389.3 379.00,386.3 379.25,387.0 379.50,390.3 379.75,390.2 380.00,389.8 380.25,388.6 380.50,393.6 380.75,389.6 381.00,388.4 381.25,392.7 381.50,390.8 381.75,389.1 382.00,391.7 382.25,389.9 382.50,390.7 382.75,390.0 383.00,387.8 383.25,391.2 383.50,389.8 383.75,387.8 384.00,388.2 384.25,391.1 384.50,388.8 384.75,389.4 385.00,390.4 385.25,389.5 385.50,386.7 385.75,390.3 386.00,390.8 386.25,390.6 386.50,391.9 386.75,389.7 387.00,390.4 387.25,391.7 387.50,388.5 387.75,391.9 388.00,391.8 388.25,390.2 388.50,391.9 388.75,390.2 389.00,387.2 389.25,390.6 389.50,389.2 389.75,389.3 390.00,388.8 390.25,390.8 390.50,389.3 390.75,387.1 391.00,389.1 391.25,389.4 391.50,386.9 391.75,387.3 392.00,387.3 392.25,386.8 392.50,388.4 392.75,389.4 393.00,390.8 393.25,389.6 393.50,389.2 393.75,389.3 394.00,389.5 394.25,386.5 394.50,388.2 394.75,387.5 395.00,386.6 395.25,385.9 395.50,385.7 395.75,386.0 396.00,384.3 396.25,387.1 396.50,386.1 396.75,386.2 397.00,386.5 397.25,387.0 397.50,384.6 397.75,385.3 398.00,382.6 398.25,381.5 398.50,381.8 398.75,387.6 399.00,381.7 399.25,385.5 399.50,387.0 399.75,383.6 400.00,387.0 400.25,387.2 400.50,385.5 400.75,387.6 401.00,384.7 401.25,382.2 401.50,384.2 401.75,382.3 402.00,380.7 402.25,380.5 402.50,386.3 402.75,381.4 403.00,382.0 403.25,380.7 403.50,381.9 403.75,381.0 404.00,380.5 404.25,378.9 404.50,378.3 404.75,379.2 405.00,380.7 405.25,383.5 405.50,381.5 405.75,382.5 406.00,380.0 406.25,378.7 406.50,376.4 406.75,378.4 407.00,374.4 407.25,377.3 407.50,380.3 407.75,377.8 408.00,378.9 408.25,376.0 408.50,374.1 408.75,375.3 409.00,375.2 409.25,377.6 409.50,378.6 409.75,373.7 410.00,374.1 410.25,374.2 410.50,373.6 410.75,371.8 411.00,373.7 411.25,373.9 411.50,373.7 411.75,370.7 412.00,372.2 412.25,369.2 412.50,373.4 412.75,369.8 413.00,370.8 413.25,370.2 413.50,369.6 413.75,368.5 414.00,367.0 414.25,372.7 414.50,369.8 414.75,369.5 415.00,372.3 415.25,368.3 415.50,369.0 415.75,367.8 416.00,369.5 416.25,368.0 416.50,367.3 416.75,366.0 417.00,366.6 417.25,367.7 417.50,361.9 417.75,364.9 418.00,364.0 418.25,363.9 418.50,360.7 418.75,364.9 419.00,361.9 419.25,362.6 419.50,361.7 419.75,359.4 420.00,361.1 420.25,358.4 420.50,359.5 420.75,360.2 421.00,360.3 421.25,360.1 421.50,359.4 421.75,362.8 422.00,359.6 422.25,356.4 422.50,357.0 422.75,356.5 423.00,357.0 423.25,355.8 423.50,355.0 423.75,358.9 424.00,355.7 424.25,354.7 424.50,354.4 424.75,354.0 425.00,356.3 425.25,354.4 425.50,355.0 425.75,348.8 426.00,352.8 426.25,353.6 426.50,354.7 426.75,350.9 427.00,347.5 427.25,350.9 427.50,348.4 427.75,345.9 428.00,347.4 428.25,349.8 428.50,349.6 428.75,348.2 429.00,344.7 429.25,349.8 429.50,343.5 429.75,344.8 430.00,341.9 430.25,346.0 430.50,344.0 430.75,344.2 431.00,342.2 431.25,341.4 431.50,341.2 431.75,337.1 432.00,341.3 432.25,340.6 432.50,337.7 432.75,337.7 433.00,337.6 433.25,339.0 433.50,336.4 433.75,335.1 434.00,333.4 434.25,331.0 434.50,331.9 434.75,332.3 435.00,331.0 435.25,330.8 435.50,331.2 435.75,329.9 436.00,328.9 436.25,328.7 436.50,327.2 436.75,326.0 437.00,326.1 437.25,321.6 437.50,325.8 437.75,320.7 438.00,323.5 438.25,321.3 438.50,322.3 438.75,319.6 439.00,317.1 439.25,319.7 439.50,317.4 439.75,316.4 440.00,315.4 440.25,316.1 440.50,314.9 440.75,312.9 441.00,309.0 441.25,310.0 441.50,309.9 441.75,311.8 442.00,308.4 442.25,306.6 442.50,307.7 442.75,304.5 443.00,303.6 443.25,302.9 443.50,299.0 443.75,302.1 444.00,300.2 444.25,297.9 444.50,295.4 444.75,296.6 445.00,297.6 445.25,293.0 445.50,291.2 445.75,292.6 446.00,288.1 446.25,286.0 446.50,287.9 446.75,286.4 447.00,286.0 447.25,284.5 447.50,284.9 447.75,282.8 448.00,281.1 448.25,280.2 448.50,280.9 448.75,280.3 449.00,279.1 449.25,277.6 449.50,271.3 449.75,272.3 450.00,272.3 450.25,272.0 450.50,267.8 450.75,271.7 451.00,268.7 451.25,265.9 451.50,266.1 451.75,264.0 452.00,262.2 452.25,263.1 452.50,260.4 452.75,257.6 453.00,257.8 453.25,257.5 453.50,254.8 453.75,257.6 454.00,252.6 454.25,256.3 454.50,253.8 454.75,249.6 455.00,250.4 455.25,251.1 455.50,247.7 455.75,245.0 456.00,246.2 456.25,248.3 456.50,241.4 456.75,243.8 457.00,241.8 457.25,240.5 457.50,239.0 457.75,238.1 458.00,239.3 458.25,237.5 458.50,233.7 458.75,236.9 459.00,230.9 459.25,233.1 459.50,231.1 459.75,231.6 460.00,229.0 460.25,228.9 460.50,225.8 460.75,226.2 461.00,223.8 461.25,225.6 461.50,219.4 461.75,221.3 462.00,218.7 462.25,216.8 462.50,214.2 462.75,214.6 463.00,210.0 463.25,208.8 463.50,211.0 463.75,205.8 464.00,209.6 464.25,205.4 464.50,205.0 464.75,203.4 465.00,202.8 465.25,200.3 465.50,199.0 465.75,198.2 466.00,199.1 466.25,198.1 466.50,197.3 466.75,194.7 467.00,192.7 467.25,189.2 467.50,192.3 467.75,191.7 468.00,188.8 468.25,190.0 468.50,190.0 468.75,187.1 469.00,187.9 469.25,185.8 469.50,181.6 469.75,182.9 470.00,182.3 470.25,183.1 470.50,180.0 470.75,180.0 471.00,178.4 471.25,179.3 471.50,178.8 471.75,179.7 472.00,178.8 472.25,177.2 472.50,176.8 472.75,176.0 473.00,175.6 473.25,177.6 473.50,170.6 473.75,173.9 474.00,174.4 474.25,175.5 474.50,171.4 474.75,173.6 475.00,174.2 475.25,171.7 475.50,168.9 475.75,171.3 476.00,169.6 476.25,172.5 476.50,169.7 476.75,173.9 477.00,170.9 477.25,169.1 477.50,169.5 477.75,168.3 478.00,170.7 478.25,172.4 478.50,169.4 478.75,171.3 479.00,168.1 479.25,170.2 479.50,173.4 479.75,167.3 480.00,171.9 480.25,171.9 480.50,166.9 480.75,167.9 481.00,169.0 481.25,172.6 481.50,170.6 481.75,171.5 482.00,173.4 482.25,172.8 482.50,173.5 482.75,173.1 483.00,176.1 483.25,173.5 483.50,178.2 483.75,175.4 484.00,175.3 484.25,178.4 484.50,178.7 484.75,175.3 485.00,179.7 485.25,177.7 485.50,179.3 485.75,182.8 486.00,180.7 486.25,183.5 486.50,183.1 486.75,187.9 487.00,185.4 487.25,184.6 487.50,185.8 487.75,187.3 488.00,190.3 488.25,191.4 488.50,194.3 488.75,194.3 489.00,195.7 489.25,197.4 489.50,198.1 489.75,200.3 490.00,202.6 490.25,204.2 490.50,203.5 490.75,203.2 491.00,206.6 491.25,210.4 491.50,208.0 491.75,213.2 492.00,216.9 492.25,217.3 492.50,218.6 492.75,225.6 493.00,227.2 493.25,226.5 493.50,231.3 493.75,233.3 494.00,231.2 494.25,238.8 494.50,235.3 494.75,238.2 495.00,238.6 495.25,242.5 495.50,241.9 495.75,246.1 496.00,249.9 496.25,250.4 496.50,251.8 496.75,257.0 497.00,255.2 497.25,260.7 497.50,260.9 497.75,264.2 498.00,266.3 498.25,269.0 498.50,271.2 498.75,272.5 499.00,275.5 499.25,279.8 499.50,281.5 499.75,282.4 500.00,285.8 500.25,288.5 500.50,292.3 500.75,295.3 501.00,297.9 501.25,299.4 501.50,303.4 501.75,303.8 502.00,305.1 502.25,311.8 502.50,312.0 502.75,316.1 503.00,318.6 503.25,324.6 503.50,324.4 503.75,329.9 504.00,331.5 504.25,333.2 504.50,335.6 504.75,342.0 505.00,344.8 505.25,348.5 505.50,353.3 505.75,353.7 506.00,356.8 506.25,359.1 506.50,362.6 506.75,364.8 507.00,367.0 507.25,374.9 507.50,371.4 507.75,378.0 508.00,381.3 508.25,383.7 508.50,384.7 508.75,388.9 509.00,391.3 509.25,393.1 509.50,397.6 509.75,399.8 510.00,402.4 510.25,407.3 510.50,407.2 510.75,412.6 511.00,413.7 511.25,418.4 511.50,420.7 511.75,424.1 512.00,425.0 512.25,428.5 512.50,431.4 512.75,436.2 513.00,440.2 513.25,443.7 513.50,443.9 513.75,447.7 514.00,447.6 514.25,449.2 514.50,454.1 514.75,457.0 515.00,458.0 515.25,460.1 515.50,466.5 515.75,466.7 516.00,467.6 516.25,476.7 516.50,475.4 516.75,476.9 517.00,480.8 517.25,480.6 517.50,486.8 517.75,483.7 518.00,486.3 518.25,490.4 518.50,491.4 518.75,497.2 519.00,494.2 519.25,497.7 519.50,501.4 519.75,504.0 520.00,506.7 520.25,507.6 520.50,512.7 520.75,510.0 521.00,512.9 521.25,515.9 521.50,515.6 521.75,517.4 522.00,518.7 522.25,520.0 522.50,520.6 522.75,523.0 523.00,522.7 523.25,527.4 523.50,525.3 523.75,532.8 524.00,533.4 524.25,533.6 524.50,532.6 524.75,533.2 525.00,537.5 525.25,537.0 525.50,539.0 525.75,538.4 526.00,543.0 526.25,541.3 526.50,544.0 526.75,541.6 527.00,543.5 527.25,545.1 527.50,542.9 527.75,542.1 528.00,543.2 528.25,540.8 528.50,542.0 528.75,534.9 529.00,537.9 529.25,536.3 529.50,531.9 529.75,532.9 530.00,540.5 530.25,543.8 530.50,552.7 530.75,563.6 531.00,570.5 531.25,581.4 531.50,590.2 531.75,603.2 532.00,613.7 532.25,620.4 532.50,624.1 532.75,636.3 533.00,641.6 533.25,644.6 533.50,651.1 533.75,647.0 534.00,654.3 534.25,651.1 534.50,655.7 534.75,653.8 535.00,652.2 535.25,655.2 535.50,656.0 535.75,656.6 536.00,657.6 536.25,654.3 536.50,656.4 536.75,656.4 537.00,654.2 537.25,652.4 537.50,651.6 537.75,653.7 538.00,652.8 538.25,649.0 538.50,647.1 538.75,650.4 539.00,644.6 539.25,646.5 539.50,643.8 539.75,641.2 540.00,643.5 540.25,642.1 540.50,644.1 540.75,644.7 541.00,639.8 541.25,641.0 541.50,640.3 541.75,636.9 542.00,635.5 542.25,639.0 542.50,634.9 542.75,634.7 543.00,633.4 543.25,632.9 543.50,631.3 543.75,632.8 544.00,632.8 544.25,629.3 544.50,626.7 544.75,628.3 545.00,624.8 545.25,625.3 545.50,627.5 545.75,628.4 546.00,624.2 546.25,620.8 546.50,622.9 546.75,616.8 547.00,618.3 547.25,621.0 547.50,618.6 547.75,614.0 548.00,612.4 548.25,615.6 548.50,612.9 548.75,610.9 549.00,611.5 549.25,608.6 549.50,605.2 549.75,608.7 550.00,605.1 550.25,603.3 550.50,601.6 550.75,603.1 551.00,600.2 551.25,601.5 551.50,598.8 551.75,599.9 552.00,596.3 552.25,594.7 552.50,591.3 552.75,591.6 553.00,593.5 553.25,595.1 553.50,587.8 553.75,587.0 554.00,588.2 554.25,587.2 554.50,584.1 554.75,584.1 555.00,580.0 555.25,581.0 555.50,581.8 555.75,581.8 556.00,577.4 556.25,576.0 556.50,575.9 556.75,575.7 557.00,573.3 557.25,569.8 557.50,570.3 557.75,569.9 558.00,565.5 558.25,562.9 558.50,564.4 558.75,562.5 559.00,561.8 559.25,558.6 559.50,555.6 559.75,554.3 560.00,551.5 560.25,549.9 560.50,548.9 560.75,547.4 561.00,548.5 561.25,543.0 561.50,543.5 561.75,541.2 562.00,543.4 562.25,540.0 562.50,537.8 562.75,538.6 563.00,536.2 563.25,534.1 563.50,536.4 563.75,534.0 564.00,534.6 564.25,532.6 564.50,530.9 564.75,528.8 565.00,525.6 565.25,527.6 565.50,525.4 565.75,525.2 566.00,522.9 566.25,520.5 566.50,518.8 566.75,520.4 567.00,520.2 567.25,516.2 567.50,516.2 567.75,516.5 568.00,511.4 568.25,510.9 568.50,508.3 568.75,510.9 569.00,508.0 569.25,505.5 569.50,502.2 569.75,503.3 570.00,504.0 570.25,500.5 570.50,499.0 570.75,499.6 571.00,495.1 571.25,496.1 571.50,495.7 571.75,492.2 572.00,490.8 572.25,491.4 572.50,489.5 572.75,488.0 573.00,487.5 573.25,486.2 573.50,483.0 573.75,482.2 574.00,482.9 574.25,482.8 574.50,482.0 574.75,477.1 575.00,479.2 575.25,477.5 575.50,475.0 575.75,474.8 576.00,474.4 576.25,475.0 576.50,469.2 576.75,471.0 577.00,468.8 577.25,467.7 577.50,469.1 577.75,467.6 578.00,463.6 578.25,463.9 578.50,463.9 578.75,460.3 579.00,463.2 579.25,460.8 579.50,460.4 579.75,459.8 580.00,461.5 580.25,457.7 580.50,456.3 580.75,459.1 581.00,454.5 581.25,453.7 581.50,451.6 581.75,455.0 582.00,452.9 582.25,452.6 582.50,451.4 582.75,450.2 583.00,448.4 583.25,447.8 583.50,449.2 583.75,448.1 584.00,450.0 584.25,445.4 584.50,445.3 584.75,443.8 585.00,447.2 585.25,442.3 585.50,445.1 585.75,445.7 586.00,442.5 586.25,443.4 586.50,438.0 586.75,440.4 587.00,437.7 587.25,440.3 587.50,439.5 587.75,437.6 588.00,440.0 588.25,438.4 588.50,436.4 588.75,435.9 589.00,433.7 589.25,435.3 589.50,438.6 589.75,433.2 590.00,434.6 590.25,432.3 590.50,434.0 590.75,432.8 591.00,431.1 591.25,427.9 591.50,429.5 591.75,431.7 592.00,428.7 592.25,429.6 592.50,427.2 592.75,424.3 593.00,427.6 593.25,426.8 593.50,424.8 593.75,424.6 594.00,425.2 594.25,423.2 594.50,424.2 594.75,422.8 595.00,418.9 595.25,421.9 595.50,420.7 595.75,419.9 596.00,421.5 596.25,419.6 596.50,421.0 596.75,421.5 597.00,419.6 597.25,416.4 597.50,417.4 597.75,419.8 598.00,417.5 598.25,416.2 598.50,417.1 598.75,417.8 599.00,417.1 599.25,417.4 599.50,414.6 599.75,415.3 600.00,415.0 600.25,415.1 600.50,411.4 600.75,414.2 601.00,412.1 601.25,416.4 601.50,416.4 601.75,416.4 602.00,414.6 602.25,412.2 602.50,414.4 602.75,412.2 603.00,413.3 603.25,410.5 603.50,410.8 603.75,412.4 604.00,414.3 604.25,411.1 604.50,414.7 604.75,414.6 605.00,408.3 605.25,410.2 605.50,408.4 605.75,409.6 606.00,408.7 606.25,409.3 606.50,410.8 606.75,410.5 607.00,409.2 607.25,408.5 607.50,408.5 607.75,408.3 608.00,408.9 608.25,407.7 608.50,408.3 608.75,405.1 609.00,408.4 609.25,409.8 609.50,407.0 609.75,404.1 610.00,408.6 610.25,405.5 610.50,402.1 610.75,405.4 611.00,406.6 611.25,406.0 611.50,407.3 611.75,406.1 612.00,405.1 612.25,401.4 612.50,402.7 612.75,404.8 613.00,405.5 613.25,402.5 613.50,403.1 613.75,404.8 614.00,400.7 614.25,400.5 614.50,403.3 614.75,404.0 615.00,402.7 615.25,399.6 615.50,403.4 615.75,401.1 616.00,404.3 616.25,403.0 616.50,403.5 616.75,404.1 617.00,402.1 617.25,404.3 617.50,404.9 617.75,403.4 618.00,404.9 618.25,401.6 618.50,404.1 618.75,403.0 619.00,400.8 619.25,402.3 619.50,401.5 619.75,401.4 620.00,402.4 620.25,404.0 620.50,401.6 620.75,402.3 621.00,399.6 621.25,402.2 621.50,403.9 621.75,403.3 622.00,402.7 622.25,400.9 622.50,400.2 622.75,401.6 623.00,399.5 623.25,399.6 623.50,403.2 623.75,400.0 624.00,404.6 624.25,399.1 624.50,402.2 624.75,399.5 625.00,401.7 625.25,399.6 625.50,401.4 625.75,401.1 626.00,400.5 626.25,402.1 626.50,403.8 626.75,400.2 627.00,402.7 627.25,401.3 627.50,401.1 627.75,404.8 628.00,397.4 628.25,399.9 628.50,398.0 628.75,400.5 629.00,400.6 629.25,404.9 629.50,401.6 629.75,404.0 630.00,403.1 630.25,400.2 630.50,401.7 630.75,403.7 631.00,401.2 631.25,401.2 631.50,401.7 631.75,398.3 632.00,399.5 632.25,401.4 632.50,401.7 632.75,399.2 633.00,400.2 633.25,400.6 633.50,400.5 633.75,401.9 634.00,400.9 634.25,401.0 634.50,398.3 634.75,398.9 635.00,401.2 635.25,398.0 635.50,401.1 635.75,399.5 636.00,399.3 636.25,401.7 636.50,399.5 636.75,399.2 637.00,399.5 637.25,400.7 637.50,404.5 637.75,397.0 638.00,400.5 638.25,400.1 638.50,402.1 638.75,399.9 639.00,396.7 639.25,402.8 639.50,398.7 639.75,400.4 640.00,398.2 640.25,398.6 640.50,399.6 640.75,401.9 641.00,401.9 641.25,399.4 641.50,401.3 641.75,399.8 642.00,400.6 642.25,400.7 642.50,401.4 642.75,399.4 643.00,400.2 643.25,400.7 643.50,400.5 643.75,399.0 644.00,403.3 644.25,399.6 644.50,401.6 644.75,400.7 645.00,402.4 645.25,396.6 645.50,403.8 645.75,399.9 646.00,398.2 646.25,400.5 646.50,404.1 646.75,401.1 647.00,398.2 647.25,399.4 647.50,402.5 647.75,397.8 648.00,399.9 648.25,399.7 648.50,403.8 648.75,399.7 649.00,402.4 649.25,399.0 649.50,398.8 649.75,401.8 650.00,401.2 650.25,397.2 650.50,401.2 650.75,401.2 651.00,399.0 651.25,400.4 651.50,400.5 651.75,399.2 652.00,399.1 652.25,398.9 652.50,399.6 652.75,397.8 653.00,399.9 653.25,397.5 653.50,400.1 653.75,399.8 654.00,398.2 654.25,401.4 654.50,403.2 654.75,402.2 655.00,397.6 655.25,402.1 655.50,400.3 655.75,399.8 656.00,398.9 656.25,399.9 656.50,402.3 656.75,400.8 657.00,399.2 657.25,398.8 657.50,399.2 657.75,400.9 658.00,403.0 658.25,398.1 658.50,399.9 658.75,399.2 659.00,398.6 659.25,400.5 659.50,400.8 659.75,397.5 660.00,398.1 660.25,401.9 660.50,400.4 660.75,400.7 661.00,399.0 661.25,399.2 661.50,400.6 661.75,399.0 662.00,397.9 662.25,399.8 662.50,401.3 662.75,398.1 663.00,401.6 663.25,401.0 663.50,398.3 663.75,399.8 664.00,399.7 664.25,400.8 664.50,400.9 664.75,397.6 665.00,397.5 665.25,401.5 665.50,400.0 665.75,400.5 666.00,400.3 666.25,402.3 666.50,397.7 666.75,401.6 667.00,398.4 667.25,401.0 667.50,402.0 667.75,397.4 668.00,400.4 668.25,399.3 668.50,399.2 668.75,399.8 669.00,398.0 669.25,398.1 669.50,400.8 669.75,401.1 670.00,398.8 670.25,397.3 670.50,403.6 670.75,401.6 671.00,400.3 671.25,398.0 671.50,398.7 671.75,400.1 672.00,398.1 672.25,402.4 672.50,399.9 672.75,400.3 673.00,398.0 673.25,398.2 673.50,398.4 673.75,400.1 674.00,399.2 674.25,399.2 674.50,400.2 674.75,400.0 675.00,402.1 675.25,399.3 675.50,398.0 675.75,399.6 676.00,402.1 676.25,398.7 676.50,399.7 676.75,399.0 677.00,400.3 677.25,400.1 677.50,398.3 677.75,399.3 678.00,401.2 678.25,401.5 678.50,401.2 678.75,401.1 679.00,399.1 679.25,399.0 679.50,401.2 679.75,397.7 680.00,399.5 680.25,396.5 680.50,399.0 680.75,398.4 681.00,397.6 681.25,400.6 681.50,398.4 681.75,399.0 682.00,399.2 682.25,398.4 682.50,402.0 682.75,398.8 683.00,399.9 683.25,397.4 683.50,398.8 683.75,399.0 684.00,399.1 684.25,398.6 684.50,399.8 684.75,402.2 685.00,399.4 685.25,399.3 685.50,398.9 685.75,403.5 686.00,402.3 686.25,400.5 686.50,400.7 686.75,398.4 687.00,399.3 687.25,399.9 687.50,399.8 687.75,398.1 688.00,398.3 688.25,400.4 688.50,400.1 688.75,396.0 689.00,399.7 689.25,401.7 689.50,398.5 689.75,399.9 690.00,397.1 690.25,400.9 690.50,397.7 690.75,397.4 691.00,399.0 691.25,403.4 691.50,398.5 691.75,397.4 692.00,400.3 692.25,399.9 692.50,402.3 692.75,397.4 693.00,396.9 693.25,399.0 693.50,400.1 693.75,400.1 694.00,401.3 694.25,397.0 694.50,398.1 694.75,399.3 695.00,400.9 695.25,400.3 695.50,398.8 695.75,397.8 696.00,401.0 696.25,401.1 696.50,403.4 696.75,399.2 697.00,402.2 697.25,397.5 697.50,398.6 697.75,398.4 698.00,398.7 698.25,398.0 698.50,398.6 698.75,399.4 699.00,398.7 699.25,400.6 699.50,399.3 699.75,399.5 700.00,401.9 700.25,400.0 700.50,399.7 700.75,399.4 701.00,399.6 701.25,400.4 701.50,398.1 701.75,401.4 702.00,402.1 702.25,401.4 702.50,398.6 702.75,396.8 703.00,398.7 703.25,399.7 703.50,400.8 703.75,399.1 704.00,398.9 704.25,402.0 704.50,398.3 704.75,401.2 705.00,401.0 705.25,397.2 705.50,399.9 705.75,398.5 706.00,397.9 706.25,396.4 706.50,396.8 706.75,400.1 707.00,398.8 707.25,399.9 707.50,397.7 707.75,398.9 708.00,399.0 708.25,396.8 708.50,396.7 708.75,400.2 709.00,399.7 709.25,397.9 709.50,399.2 709.75,400.5 710.00,402.5 710.25,397.9 710.50,400.4 710.75,402.9 711.00,399.5 711.25,401.8 711.50,395.6 711.75,401.8 712.00,399.4 712.25,396.3 712.50,400.7 712.75,401.1 713.00,401.4 713.25,401.4 713.50,399.3 713.75,398.1 714.00,398.6 714.25,399.3 714.50,400.1 714.75,398.6 715.00,399.5 715.25,400.8 715.50,399.9 715.75,403.2 716.00,403.0 716.25,397.4 716.50,398.4 716.75,397.2 717.00,397.4 717.25,400.3 717.50,397.7 717.75,397.6 718.00,398.9 718.25,400.7 718.50,398.8 718.75,398.7 719.00,400.9 719.25,400.1 719.50,400.1 719.75,400.9 720.00,397.6 720.25,399.7 720.50,398.3 720.75,401.0 721.00,400.7 721.25,397.6 721.50,401.6 721.75,397.4 722.00,401.3 722.25,399.7 722.50,397.9 722.75,397.4 723.00,398.8 723.25,399.3 723.50,398.1 723.75,400.2 724.00,397.0 724.25,399.3 724.50,399.3 724.75,396.2 725.00,399.8 725.25,397.2 725.50,395.5 725.75,398.3 726.00,398.9 726.25,400.8 726.50,398.5 726.75,401.7 727.00,401.7 727.25,401.1 727.50,401.5 727.75,399.9 728.00,398.3 728.25,400.3 728.50,400.9 728.75,399.7 729.00,398.8 729.25,396.6 729.50,400.4 729.75,399.8 730.00,397.1 730.25,399.4 730.50,400.5 730.75,399.1 731.00,400.6 731.25,400.5 731.50,396.8 731.75,398.7 732.00,400.0 732.25,400.8 732.50,401.6 732.75,396.0 733.00,399.1 733.25,400.4 733.50,401.3 733.75,402.0 734.00,397.6 734.25,398.6 734.50,397.4 734.75,400.6 735.00,397.0 735.25,401.2 735.50,400.8 735.75,400.0 736.00,395.6 736.25,398.1 736.50,400.4 736.75,396.8 737.00,398.8 737.25,399.0 737.50,400.7 737.75,399.7 738.00,399.6 738.25,398.4 738.50,399.2 738.75,398.9 739.00,400.4 739.25,398.9 739.50,400.9 739.75,396.3 740.00,401.2 740.25,398.9 740.50,401.1 740.75,399.3 741.00,400.6 741.25,401.7 741.50,398.2 741.75,399.3 742.00,398.9 742.25,399.5 742.50,396.4 742.75,398.8 743.00,398.7 743.25,397.8 743.50,398.8 743.75,396.5 744.00,401.5 744.25,399.9 744.50,402.3 744.75,397.7 745.00,397.2 745.25,399.6 745.50,396.3 745.75,399.5 746.00,397.9 746.25,398.5 746.50,399.5 746.75,399.2 747.00,402.2 747.25,400.2 747.50,396.9 747.75,400.7 748.00,396.8 748.25,399.2 748.50,397.0 748.75,397.7 749.00,401.3 749.25,398.1 749.50,398.0 749.75,398.1 750.00,398.5 750.25,401.5 750.50,397.1 750.75,397.0 751.00,400.0 751.25,396.4 751.50,398.4 751.75,401.0 752.00,399.1 752.25,398.2 752.50,397.9 752.75,397.5 753.00,398.0 753.25,399.3 753.50,401.1 753.75,400.7 754.00,398.1 754.25,397.8 754.50,400.2 754.75,396.0 755.00,398.3 755.25,398.5 755.50,397.1 755.75,397.3 756.00,399.6 756.25,396.2 756.50,397.5 756.75,397.9 757.00,399.1 757.25,396.7 757.50,400.8 757.75,398.5 758.00,398.5 758.25,398.4 758.50,397.8 758.75,397.3 759.00,400.9 759.25,399.3 759.50,398.8 759.75,400.6 760.00,397.7 760.25,400.0 760.50,399.0 760.75,397.4 761.00,400.2 761.25,396.4 761.50,400.0 761.75,397.4 762.00,399.6 762.25,401.2 762.50,399.9 762.75,397.9 763.00,398.9 763.25,398.3 763.50,396.9 763.75,397.0 764.00,399.0 764.25,399.8 764.50,395.9 764.75,398.8 765.00,399.7 765.25,399.1 765.50,397.2 765.75,400.6 766.00,396.8 766.25,399.9 766.50,401.5 766.75,395.4 767.00,399.3 767.25,399.4 767.50,399.2 767.75,397.6 768.00,398.3 768.25,396.5 768.50,399.1 768.75,399.7 769.00,397.7 769.25,397.3 769.50,398.0 769.75,398.8 770.00,398.9 770.25,398.6 770.50,398.9 770.75,396.6 771.00,395.1 771.25,399.8 771.50,401.2 771.75,396.4 772.00,397.7 772.25,399.3 772.50,400.4 772.75,399.9 773.00,400.9 773.25,398.7 773.50,399.5 773.75,399.5 774.00,398.0 774.25,400.8 774.50,399.8 774.75,400.4 775.00,398.1 775.25,400.5 775.50,397.0 775.75,399.4 776.00,395.1 776.25,397.1 776.50,400.0 776.75,398.0 777.00,399.0 777.25,396.0 777.50,401.3 777.75,399.7 778.00,398.7 778.25,399.4 778.50,399.3 778.75,401.1 779.00,399.1 779.25,396.3 779.50,398.3 779.75,400.9 780.00,399.7 780.25,398.0 780.50,399.7 780.75,398.9 781.00,399.7 781.25,396.1 781.50,397.2 781.75,399.8 782.00,398.3 782.25,399.3 782.50,402.0 782.75,398.2 783.00,399.1 783.25,397.8 783.50,397.6 783.75,398.6 784.00,396.3 784.25,395.2 784.50,400.9 784.75,398.5 785.00,400.5 785.25,398.9 785.50,398.9 785.75,399.8 786.00,399.9 786.25,396.7 786.50,400.7 786.75,397.0 787.00,399.0 787.25,402.7 787.50,398.8 787.75,401.4 788.00,398.1 788.25,399.7 788.50,398.7 788.75,399.3 789.00,397.2 789.25,397.1 789.50,399.2 789.75,396.0 790.00,397.2 790.25,399.7 790.50,397.6 790.75,397.2 791.00,396.8 791.25,398.9 791.50,398.0 791.75,398.9 792.00,398.3 792.25,401.7 792.50,397.9 792.75,395.4 793.00,398.8 793.25,398.6 793.50,398.9 793.75,395.9 794.00,400.5 794.25,398.6 794.50,398.5 794.75,396.0 795.00,399.4 795.25,398.5 795.50,400.8 795.75,397.9 796.00,396.5 796.25,398.8 796.50,397.1 796.75,399.3 797.00,396.8 797.25,398.4 797.50,398.2 797.75,398.5 798.00,397.7 798.25,397.2 798.50,398.5 798.75,397.6 799.00,398.8 799.25,398.1 799.50,394.9 799.75,398.5 800.00,400.9 800.25,399.1 800.50,399.5 800.75,399.3 801.00,397.8 801.25,396.3 801.50,399.9 801.75,400.3 802.00,399.5 802.25,399.2 802.50,399.2 802.75,398.5 803.00,399.0 803.25,398.6 803.50,399.1 803.75,397.0 804.00,397.5 804.25,399.5 804.50,398.0 804.75,394.8 805.00,398.7 805.25,394.8 805.50,401.7 805.75,399.7 806.00,399.6 806.25,397.4 806.50,396.7 806.75,398.2 807.00,398.5 807.25,397.2 807.50,398.8 807.75,399.6 808.00,399.5 808.25,396.8 808.50,395.0 808.75,398.5 809.00,397.4 809.25,399.2 809.50,401.2 809.75,401.2 810.00,399.0 810.25,400.3 810.50,401.2 810.75,398.6 811.00,398.9 811.25,399.9 811.50,398.4 811.75,397.7 812.00,397.3 812.25,398.5 812.50,397.5 812.75,399.8 813.00,397.9 813.25,400.9 813.50,400.4 813.75,396.5 814.00,400.2 814.25,397.8 814.50,400.7 814.75,399.3 815.00,398.4 815.25,399.6 815.50,397.6" fill="none" stroke="#00f" stroke-width="2.4" stroke-linejoin="miter" stroke-miterlimit="6"/>
<line x1="451.3" y1="87" x2="451.3" y2="148.6" stroke="#f00" stroke-width="1.1" stroke-dasharray="5.5 3.1"/>
<line x1="560.6" y1="530.4" x2="560.6" y2="591.6" stroke="#f00" stroke-width="1.1" stroke-dasharray="5.5 3.1"/>
<line x1="479.4" y1="139.2" x2="479.4" y2="200.4" stroke="#00f" stroke-width="1.1" stroke-dasharray="5.5 3.1"/>
<line x1="536.5" y1="600.8" x2="536.5" y2="661" stroke="#00f" stroke-width="1.1" stroke-dasharray="5.5 3.1"/>
<line x1="336.4" y1="86.1" x2="428" y2="147.9" stroke="#f00" stroke-width="2.7"/>
<polygon points="436.2,153.4 424.6,140.4 418.7,148.2" fill="#f00"/>
<line x1="640.8" y1="211.4" x2="508" y2="247.3" stroke="#00f" stroke-width="1.2"/>
<polygon points="495.8,250.6 510.8,242.4 512.9,250.6" fill="#00f"/>
<g fill="#f00">
<text transform="translate(214.64,31.90) scale(0.95,1)" font-size="35.5" x="0.00 20.12 30.17 46.95 65.38 83.81 102.24 110.62 130.74 150.87 159.25 169.30 177.68 196.11 212.89">E-spun PS fiber</text>
<text transform="translate(217.60,78.00) skewX(-21)" font-size="35.5" class="sd">Δ</text>
<text transform="translate(236.34,78.00) scale(0.95,1)" font-size="35.5">H</text>
<text transform="translate(257.38,89.80) scale(0.95,1)" font-size="19.5" x="0.00 11.86">pp</text>
<text transform="translate(284.50,78.00) scale(0.95,1)" font-size="35.5">=</text>
<text transform="translate(311.68,78.00) scale(0.95,1)" font-size="35.5" x="0.00 16.08 32.17 48.25 64.33 72.37">1107.0</text>
<text transform="translate(406.12,78.00) scale(0.95,1)" font-size="35.5">G</text>
</g>
<g fill="#00f">
<text transform="translate(671.44,120.30) scale(0.95,1)" font-size="35.5" x="0.00 18.45 35.25 47.00 58.76 77.21 87.27 95.66 114.11 122.50">Ferrofluid</text>
<text transform="translate(689.50,157.60) skewX(-12)" font-size="35.5" class="sg">γ</text>
<text transform="translate(702.88,157.60) scale(0.95,1)" font-size="35.5">-</text>
<text transform="translate(709.64,157.60) scale(0.95,1)" font-size="35.5" x="0.00 19.32">Fe</text>
<text transform="translate(743.26,169.80) scale(0.95,1)" font-size="19.5">2</text>
<text transform="translate(752.62,157.60) scale(0.95,1)" font-size="35.5">O</text>
<text transform="translate(775.07,169.80) scale(0.95,1)" font-size="19.5">3</text>
<text transform="translate(654.20,201.60) skewX(-21)" font-size="35.5" class="sd">Δ</text>
<text transform="translate(673.34,201.60) scale(0.95,1)" font-size="35.5">H</text>
<text transform="translate(694.08,213.40) scale(0.95,1)" font-size="19.5" x="0.00 9.96">pp</text>
<text transform="translate(721.30,201.60) scale(0.95,1)" font-size="35.5">=</text>
<text transform="translate(746.76,201.60) scale(0.95,1)" font-size="35.5" x="0.00 16.71 33.43 50.14 58.49">596.0</text>
<text transform="translate(826.82,201.60) scale(0.95,1)" font-size="35.5">G</text>
</g>
</svg>
</body></html>
